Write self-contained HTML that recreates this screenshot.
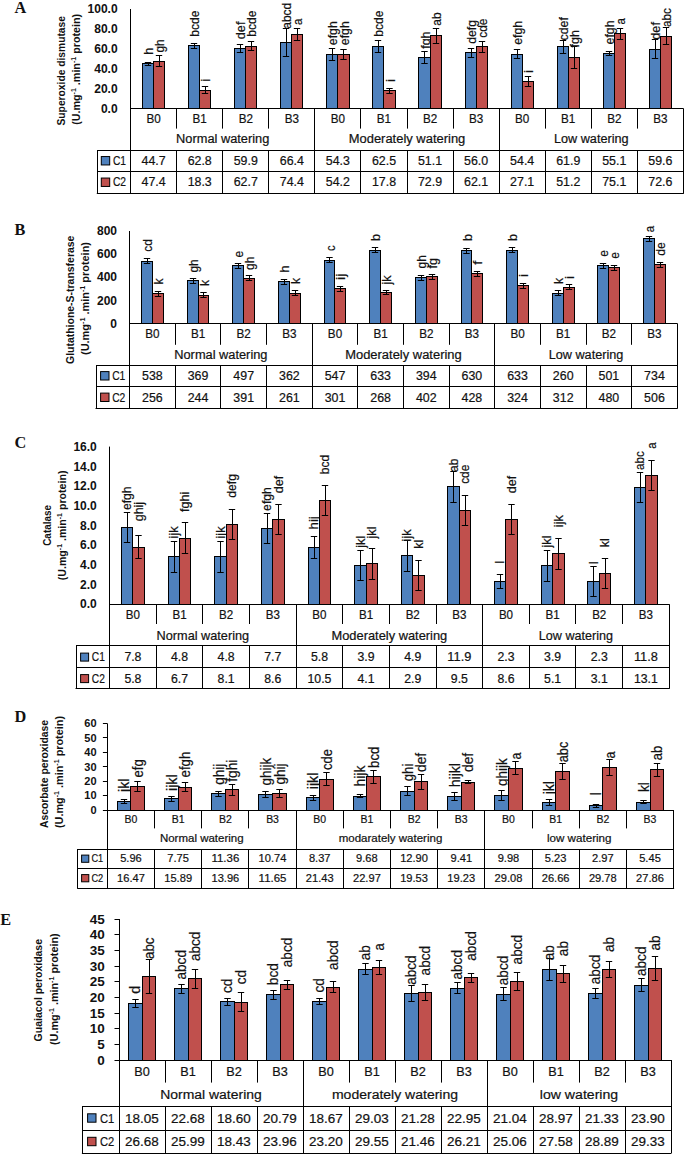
<!DOCTYPE html>
<html><head><meta charset="utf-8"><style>
html,body{margin:0;padding:0;background:#fff;}
body{width:685px;height:1154px;overflow:hidden;}
svg{display:block;}
text.r{stroke:#111;stroke-width:0.2px;}
</style></head><body>
<svg width="685" height="1154" viewBox="0 0 685 1154" font-family='"Liberation Sans", sans-serif' fill="#111">
<rect width="685" height="1154" fill="#fff"/>
<text x="14.60" y="12.90" font-size="16.30" text-anchor="start" font-weight="bold" font-family='"Liberation Serif", serif'>A</text>
<text transform="translate(65.00,70.75) rotate(-90)" x="0" y="0" font-size="11.5" font-weight="bold" text-anchor="middle" textLength="109.50" lengthAdjust="spacingAndGlyphs">Superoxide dismutase</text>
<text transform="translate(79.50,69.35) rotate(-90)" x="0" y="0" font-size="11.5" font-weight="bold" text-anchor="middle" textLength="111.00" lengthAdjust="spacingAndGlyphs">(U.mg<tspan font-size="7.5" dy="-4">-1</tspan><tspan dy="4"> .min</tspan><tspan font-size="7.5" dy="-4">-1</tspan><tspan dy="4"> protein)</tspan></text>
<text x="117.60" y="112.60" font-size="12.00" text-anchor="end" font-weight="bold">0.0</text>
<text x="117.60" y="92.72" font-size="12.00" text-anchor="end" font-weight="bold">20.0</text>
<text x="117.60" y="72.84" font-size="12.00" text-anchor="end" font-weight="bold">40.0</text>
<text x="117.60" y="52.96" font-size="12.00" text-anchor="end" font-weight="bold">60.0</text>
<text x="117.60" y="33.08" font-size="12.00" text-anchor="end" font-weight="bold">80.0</text>
<text x="117.60" y="13.20" font-size="12.00" text-anchor="end" font-weight="bold">100.0</text>
<rect x="142.50" y="63.50" width="11.00" height="45.00" fill="#4f81bd" stroke="#000" stroke-width="1"/>
<line x1="148.50" y1="62.67" x2="148.50" y2="65.27" stroke="#000" stroke-width="1.0"/>
<line x1="144.80" y1="62.50" x2="151.20" y2="62.50" stroke="#000" stroke-width="1.0"/>
<line x1="144.80" y1="65.50" x2="151.20" y2="65.50" stroke="#000" stroke-width="1.0"/>
<text class="r" transform="translate(153.30,54.80) rotate(-90)" x="0" y="0" font-size="11.97" text-anchor="start" textLength="6.99" lengthAdjust="spacingAndGlyphs">h</text>
<rect x="153.50" y="61.50" width="11.00" height="47.00" fill="#c0504d" stroke="#000" stroke-width="1"/>
<line x1="159.50" y1="55.68" x2="159.50" y2="66.88" stroke="#000" stroke-width="1.0"/>
<line x1="155.80" y1="55.50" x2="162.20" y2="55.50" stroke="#000" stroke-width="1.0"/>
<line x1="155.80" y1="66.50" x2="162.20" y2="66.50" stroke="#000" stroke-width="1.0"/>
<text class="r" transform="translate(164.30,52.60) rotate(-90)" x="0" y="0" font-size="11.97" text-anchor="start" textLength="13.25" lengthAdjust="spacingAndGlyphs">gh</text>
<rect x="188.50" y="45.50" width="11.00" height="63.00" fill="#4f81bd" stroke="#000" stroke-width="1"/>
<line x1="194.50" y1="43.18" x2="194.50" y2="48.78" stroke="#000" stroke-width="1.0"/>
<line x1="190.80" y1="43.50" x2="197.20" y2="43.50" stroke="#000" stroke-width="1.0"/>
<line x1="190.80" y1="48.50" x2="197.20" y2="48.50" stroke="#000" stroke-width="1.0"/>
<text class="r" transform="translate(199.30,36.80) rotate(-90)" x="0" y="0" font-size="11.97" text-anchor="start" textLength="26.22" lengthAdjust="spacingAndGlyphs">bcde</text>
<rect x="199.50" y="90.50" width="11.00" height="18.00" fill="#c0504d" stroke="#000" stroke-width="1"/>
<line x1="205.50" y1="86.51" x2="205.50" y2="93.91" stroke="#000" stroke-width="1.0"/>
<line x1="201.80" y1="86.50" x2="208.20" y2="86.50" stroke="#000" stroke-width="1.0"/>
<line x1="201.80" y1="93.50" x2="208.20" y2="93.50" stroke="#000" stroke-width="1.0"/>
<text class="r" transform="translate(210.30,81.70) rotate(-90)" x="0" y="0" font-size="11.97" text-anchor="start" textLength="3.05" lengthAdjust="spacingAndGlyphs">i</text>
<rect x="234.50" y="48.50" width="11.00" height="60.00" fill="#4f81bd" stroke="#000" stroke-width="1"/>
<line x1="240.50" y1="44.86" x2="240.50" y2="52.86" stroke="#000" stroke-width="1.0"/>
<line x1="236.80" y1="44.50" x2="243.20" y2="44.50" stroke="#000" stroke-width="1.0"/>
<line x1="236.80" y1="52.50" x2="243.20" y2="52.50" stroke="#000" stroke-width="1.0"/>
<text class="r" transform="translate(245.30,39.20) rotate(-90)" x="0" y="0" font-size="11.97" text-anchor="start" textLength="17.66" lengthAdjust="spacingAndGlyphs">def</text>
<rect x="245.50" y="46.50" width="11.00" height="62.00" fill="#c0504d" stroke="#000" stroke-width="1"/>
<line x1="251.50" y1="41.58" x2="251.50" y2="50.58" stroke="#000" stroke-width="1.0"/>
<line x1="247.80" y1="41.50" x2="254.20" y2="41.50" stroke="#000" stroke-width="1.0"/>
<line x1="247.80" y1="50.50" x2="254.20" y2="50.50" stroke="#000" stroke-width="1.0"/>
<text class="r" transform="translate(256.30,36.80) rotate(-90)" x="0" y="0" font-size="11.97" text-anchor="start" textLength="26.22" lengthAdjust="spacingAndGlyphs">bcde</text>
<rect x="280.50" y="42.50" width="11.00" height="66.00" fill="#4f81bd" stroke="#000" stroke-width="1"/>
<line x1="286.50" y1="28.10" x2="286.50" y2="56.70" stroke="#000" stroke-width="1.0"/>
<line x1="282.80" y1="28.50" x2="289.20" y2="28.50" stroke="#000" stroke-width="1.0"/>
<line x1="282.80" y1="56.50" x2="289.20" y2="56.50" stroke="#000" stroke-width="1.0"/>
<text class="r" transform="translate(291.30,28.70) rotate(-90)" x="0" y="0" font-size="11.97" text-anchor="start" textLength="25.97" lengthAdjust="spacingAndGlyphs">abcd</text>
<rect x="291.50" y="34.50" width="11.00" height="74.00" fill="#c0504d" stroke="#000" stroke-width="1"/>
<line x1="297.50" y1="28.60" x2="297.50" y2="40.30" stroke="#000" stroke-width="1.0"/>
<line x1="293.80" y1="28.50" x2="300.20" y2="28.50" stroke="#000" stroke-width="1.0"/>
<line x1="293.80" y1="40.50" x2="300.20" y2="40.50" stroke="#000" stroke-width="1.0"/>
<text class="r" transform="translate(302.30,25.10) rotate(-90)" x="0" y="0" font-size="11.97" text-anchor="start" textLength="6.37" lengthAdjust="spacingAndGlyphs">a</text>
<rect x="326.50" y="54.50" width="11.00" height="54.00" fill="#4f81bd" stroke="#000" stroke-width="1"/>
<line x1="332.50" y1="48.83" x2="332.50" y2="60.03" stroke="#000" stroke-width="1.0"/>
<line x1="328.80" y1="48.50" x2="335.20" y2="48.50" stroke="#000" stroke-width="1.0"/>
<line x1="328.80" y1="60.50" x2="335.20" y2="60.50" stroke="#000" stroke-width="1.0"/>
<text class="r" transform="translate(337.30,45.20) rotate(-90)" x="0" y="0" font-size="11.97" text-anchor="start" textLength="23.92" lengthAdjust="spacingAndGlyphs">efgh</text>
<rect x="337.50" y="54.50" width="12.00" height="54.00" fill="#c0504d" stroke="#000" stroke-width="1"/>
<line x1="343.50" y1="49.33" x2="343.50" y2="59.73" stroke="#000" stroke-width="1.0"/>
<line x1="340.30" y1="49.50" x2="346.70" y2="49.50" stroke="#000" stroke-width="1.0"/>
<line x1="340.30" y1="59.50" x2="346.70" y2="59.50" stroke="#000" stroke-width="1.0"/>
<text class="r" transform="translate(348.80,45.20) rotate(-90)" x="0" y="0" font-size="11.97" text-anchor="start" textLength="23.92" lengthAdjust="spacingAndGlyphs">efgh</text>
<rect x="372.50" y="46.50" width="11.00" height="62.00" fill="#4f81bd" stroke="#000" stroke-width="1"/>
<line x1="378.50" y1="40.27" x2="378.50" y2="52.27" stroke="#000" stroke-width="1.0"/>
<line x1="374.80" y1="40.50" x2="381.20" y2="40.50" stroke="#000" stroke-width="1.0"/>
<line x1="374.80" y1="52.50" x2="381.20" y2="52.50" stroke="#000" stroke-width="1.0"/>
<text class="r" transform="translate(383.30,36.80) rotate(-90)" x="0" y="0" font-size="11.97" text-anchor="start" textLength="26.22" lengthAdjust="spacingAndGlyphs">bcde</text>
<rect x="383.50" y="90.50" width="12.00" height="18.00" fill="#c0504d" stroke="#000" stroke-width="1"/>
<line x1="389.50" y1="88.01" x2="389.50" y2="93.41" stroke="#000" stroke-width="1.0"/>
<line x1="386.30" y1="88.50" x2="392.70" y2="88.50" stroke="#000" stroke-width="1.0"/>
<line x1="386.30" y1="93.50" x2="392.70" y2="93.50" stroke="#000" stroke-width="1.0"/>
<text class="r" transform="translate(394.80,82.10) rotate(-90)" x="0" y="0" font-size="11.97" text-anchor="start" textLength="3.05" lengthAdjust="spacingAndGlyphs">i</text>
<rect x="418.50" y="57.50" width="12.00" height="51.00" fill="#4f81bd" stroke="#000" stroke-width="1"/>
<line x1="424.50" y1="51.61" x2="424.50" y2="63.61" stroke="#000" stroke-width="1.0"/>
<line x1="421.30" y1="51.50" x2="427.70" y2="51.50" stroke="#000" stroke-width="1.0"/>
<line x1="421.30" y1="63.50" x2="427.70" y2="63.50" stroke="#000" stroke-width="1.0"/>
<text class="r" transform="translate(429.80,48.80) rotate(-90)" x="0" y="0" font-size="11.97" text-anchor="start" textLength="17.31" lengthAdjust="spacingAndGlyphs">fgh</text>
<rect x="430.50" y="35.50" width="11.00" height="73.00" fill="#c0504d" stroke="#000" stroke-width="1"/>
<line x1="436.50" y1="28.59" x2="436.50" y2="43.29" stroke="#000" stroke-width="1.0"/>
<line x1="432.80" y1="28.50" x2="439.20" y2="28.50" stroke="#000" stroke-width="1.0"/>
<line x1="432.80" y1="43.50" x2="439.20" y2="43.50" stroke="#000" stroke-width="1.0"/>
<text class="r" transform="translate(441.30,25.70) rotate(-90)" x="0" y="0" font-size="11.97" text-anchor="start" textLength="13.36" lengthAdjust="spacingAndGlyphs">ab</text>
<rect x="465.50" y="52.50" width="11.00" height="56.00" fill="#4f81bd" stroke="#000" stroke-width="1"/>
<line x1="471.50" y1="48.44" x2="471.50" y2="57.04" stroke="#000" stroke-width="1.0"/>
<line x1="467.80" y1="48.50" x2="474.20" y2="48.50" stroke="#000" stroke-width="1.0"/>
<line x1="467.80" y1="57.50" x2="474.20" y2="57.50" stroke="#000" stroke-width="1.0"/>
<text class="r" transform="translate(476.30,43.80) rotate(-90)" x="0" y="0" font-size="11.97" text-anchor="start" textLength="23.92" lengthAdjust="spacingAndGlyphs">defg</text>
<rect x="476.50" y="46.50" width="11.00" height="62.00" fill="#c0504d" stroke="#000" stroke-width="1"/>
<line x1="482.50" y1="41.17" x2="482.50" y2="52.17" stroke="#000" stroke-width="1.0"/>
<line x1="478.80" y1="41.50" x2="485.20" y2="41.50" stroke="#000" stroke-width="1.0"/>
<line x1="478.80" y1="52.50" x2="485.20" y2="52.50" stroke="#000" stroke-width="1.0"/>
<text class="r" transform="translate(487.30,37.80) rotate(-90)" x="0" y="0" font-size="11.97" text-anchor="start" textLength="19.23" lengthAdjust="spacingAndGlyphs">cde</text>
<rect x="511.50" y="54.50" width="11.00" height="54.00" fill="#4f81bd" stroke="#000" stroke-width="1"/>
<line x1="517.50" y1="49.83" x2="517.50" y2="58.83" stroke="#000" stroke-width="1.0"/>
<line x1="513.80" y1="49.50" x2="520.20" y2="49.50" stroke="#000" stroke-width="1.0"/>
<line x1="513.80" y1="58.50" x2="520.20" y2="58.50" stroke="#000" stroke-width="1.0"/>
<text class="r" transform="translate(522.30,44.80) rotate(-90)" x="0" y="0" font-size="11.97" text-anchor="start" textLength="23.92" lengthAdjust="spacingAndGlyphs">efgh</text>
<rect x="522.50" y="81.50" width="11.00" height="27.00" fill="#c0504d" stroke="#000" stroke-width="1"/>
<line x1="528.50" y1="76.06" x2="528.50" y2="86.86" stroke="#000" stroke-width="1.0"/>
<line x1="524.80" y1="76.50" x2="531.20" y2="76.50" stroke="#000" stroke-width="1.0"/>
<line x1="524.80" y1="86.50" x2="531.20" y2="86.50" stroke="#000" stroke-width="1.0"/>
<text class="r" transform="translate(533.30,73.00) rotate(-90)" x="0" y="0" font-size="11.97" text-anchor="start" textLength="3.05" lengthAdjust="spacingAndGlyphs">i</text>
<rect x="557.50" y="46.50" width="11.00" height="62.00" fill="#4f81bd" stroke="#000" stroke-width="1"/>
<line x1="563.50" y1="40.27" x2="563.50" y2="53.47" stroke="#000" stroke-width="1.0"/>
<line x1="559.80" y1="40.50" x2="566.20" y2="40.50" stroke="#000" stroke-width="1.0"/>
<line x1="559.80" y1="53.50" x2="566.20" y2="53.50" stroke="#000" stroke-width="1.0"/>
<text class="r" transform="translate(568.30,40.40) rotate(-90)" x="0" y="0" font-size="11.97" text-anchor="start" textLength="23.29" lengthAdjust="spacingAndGlyphs">cdef</text>
<rect x="568.50" y="57.50" width="11.00" height="51.00" fill="#c0504d" stroke="#000" stroke-width="1"/>
<line x1="574.50" y1="46.41" x2="574.50" y2="68.61" stroke="#000" stroke-width="1.0"/>
<line x1="570.80" y1="46.50" x2="577.20" y2="46.50" stroke="#000" stroke-width="1.0"/>
<line x1="570.80" y1="68.50" x2="577.20" y2="68.50" stroke="#000" stroke-width="1.0"/>
<text class="r" transform="translate(579.30,47.50) rotate(-90)" x="0" y="0" font-size="11.97" text-anchor="start" textLength="17.31" lengthAdjust="spacingAndGlyphs">fgh</text>
<rect x="603.50" y="53.50" width="11.00" height="55.00" fill="#4f81bd" stroke="#000" stroke-width="1"/>
<line x1="609.50" y1="51.63" x2="609.50" y2="55.63" stroke="#000" stroke-width="1.0"/>
<line x1="605.80" y1="51.50" x2="612.20" y2="51.50" stroke="#000" stroke-width="1.0"/>
<line x1="605.80" y1="55.50" x2="612.20" y2="55.50" stroke="#000" stroke-width="1.0"/>
<text class="r" transform="translate(614.30,44.40) rotate(-90)" x="0" y="0" font-size="11.97" text-anchor="start" textLength="23.92" lengthAdjust="spacingAndGlyphs">efgh</text>
<rect x="614.50" y="33.50" width="11.00" height="75.00" fill="#c0504d" stroke="#000" stroke-width="1"/>
<line x1="620.50" y1="28.25" x2="620.50" y2="39.25" stroke="#000" stroke-width="1.0"/>
<line x1="616.80" y1="28.50" x2="623.20" y2="28.50" stroke="#000" stroke-width="1.0"/>
<line x1="616.80" y1="39.50" x2="623.20" y2="39.50" stroke="#000" stroke-width="1.0"/>
<text class="r" transform="translate(625.30,24.60) rotate(-90)" x="0" y="0" font-size="11.97" text-anchor="start" textLength="6.37" lengthAdjust="spacingAndGlyphs">a</text>
<rect x="649.50" y="49.50" width="11.00" height="59.00" fill="#4f81bd" stroke="#000" stroke-width="1"/>
<line x1="655.50" y1="39.96" x2="655.50" y2="58.36" stroke="#000" stroke-width="1.0"/>
<line x1="651.80" y1="39.50" x2="658.20" y2="39.50" stroke="#000" stroke-width="1.0"/>
<line x1="651.80" y1="58.50" x2="658.20" y2="58.50" stroke="#000" stroke-width="1.0"/>
<text class="r" transform="translate(660.30,39.70) rotate(-90)" x="0" y="0" font-size="11.97" text-anchor="start" textLength="17.66" lengthAdjust="spacingAndGlyphs">def</text>
<rect x="660.50" y="36.50" width="11.00" height="72.00" fill="#c0504d" stroke="#000" stroke-width="1"/>
<line x1="666.50" y1="27.54" x2="666.50" y2="44.94" stroke="#000" stroke-width="1.0"/>
<line x1="662.80" y1="27.50" x2="669.20" y2="27.50" stroke="#000" stroke-width="1.0"/>
<line x1="662.80" y1="44.50" x2="669.20" y2="44.50" stroke="#000" stroke-width="1.0"/>
<text class="r" transform="translate(671.30,27.10) rotate(-90)" x="0" y="0" font-size="11.97" text-anchor="start" textLength="18.98" lengthAdjust="spacingAndGlyphs">abc</text>
<line x1="130.50" y1="9.00" x2="130.50" y2="193.00" stroke="#000" stroke-width="1.0"/>
<line x1="130.60" y1="108.50" x2="683.40" y2="108.50" stroke="#000" stroke-width="1.0"/>
<line x1="97.30" y1="150.50" x2="683.40" y2="150.50" stroke="#000" stroke-width="1.0"/>
<line x1="97.30" y1="171.50" x2="683.40" y2="171.50" stroke="#000" stroke-width="1.0"/>
<line x1="96.80" y1="193.50" x2="683.90" y2="193.50" stroke="#000" stroke-width="1.0"/>
<line x1="97.50" y1="150.00" x2="97.50" y2="193.00" stroke="#000" stroke-width="1.0"/>
<line x1="683.50" y1="108.40" x2="683.50" y2="193.00" stroke="#000" stroke-width="1.0"/>
<line x1="176.50" y1="108.40" x2="176.50" y2="128.60" stroke="#000" stroke-width="1.0"/>
<line x1="176.50" y1="150.00" x2="176.50" y2="193.00" stroke="#000" stroke-width="1.0"/>
<line x1="222.50" y1="108.40" x2="222.50" y2="128.60" stroke="#000" stroke-width="1.0"/>
<line x1="222.50" y1="150.00" x2="222.50" y2="193.00" stroke="#000" stroke-width="1.0"/>
<line x1="268.50" y1="108.40" x2="268.50" y2="128.60" stroke="#000" stroke-width="1.0"/>
<line x1="268.50" y1="150.00" x2="268.50" y2="193.00" stroke="#000" stroke-width="1.0"/>
<line x1="314.50" y1="108.40" x2="314.50" y2="193.00" stroke="#000" stroke-width="1.0"/>
<line x1="360.50" y1="108.40" x2="360.50" y2="128.60" stroke="#000" stroke-width="1.0"/>
<line x1="360.50" y1="150.00" x2="360.50" y2="193.00" stroke="#000" stroke-width="1.0"/>
<line x1="407.50" y1="108.40" x2="407.50" y2="128.60" stroke="#000" stroke-width="1.0"/>
<line x1="407.50" y1="150.00" x2="407.50" y2="193.00" stroke="#000" stroke-width="1.0"/>
<line x1="453.50" y1="108.40" x2="453.50" y2="128.60" stroke="#000" stroke-width="1.0"/>
<line x1="453.50" y1="150.00" x2="453.50" y2="193.00" stroke="#000" stroke-width="1.0"/>
<line x1="499.50" y1="108.40" x2="499.50" y2="193.00" stroke="#000" stroke-width="1.0"/>
<line x1="545.50" y1="108.40" x2="545.50" y2="128.60" stroke="#000" stroke-width="1.0"/>
<line x1="545.50" y1="150.00" x2="545.50" y2="193.00" stroke="#000" stroke-width="1.0"/>
<line x1="591.50" y1="108.40" x2="591.50" y2="128.60" stroke="#000" stroke-width="1.0"/>
<line x1="591.50" y1="150.00" x2="591.50" y2="193.00" stroke="#000" stroke-width="1.0"/>
<line x1="637.50" y1="108.40" x2="637.50" y2="128.60" stroke="#000" stroke-width="1.0"/>
<line x1="637.50" y1="150.00" x2="637.50" y2="193.00" stroke="#000" stroke-width="1.0"/>
<text class="r" x="153.63" y="122.72" font-size="12.24" text-anchor="middle" textLength="14.29" lengthAdjust="spacingAndGlyphs">B0</text>
<text class="r" x="153.63" y="164.97" font-size="12.24" text-anchor="middle" textLength="24.11" lengthAdjust="spacingAndGlyphs">44.7</text>
<text class="r" x="153.63" y="186.47" font-size="12.24" text-anchor="middle" textLength="24.11" lengthAdjust="spacingAndGlyphs">47.4</text>
<text class="r" x="199.70" y="122.72" font-size="12.24" text-anchor="middle" textLength="14.29" lengthAdjust="spacingAndGlyphs">B1</text>
<text class="r" x="199.70" y="164.97" font-size="12.24" text-anchor="middle" textLength="24.11" lengthAdjust="spacingAndGlyphs">62.8</text>
<text class="r" x="199.70" y="186.47" font-size="12.24" text-anchor="middle" textLength="24.11" lengthAdjust="spacingAndGlyphs">18.3</text>
<text class="r" x="245.77" y="122.72" font-size="12.24" text-anchor="middle" textLength="14.29" lengthAdjust="spacingAndGlyphs">B2</text>
<text class="r" x="245.77" y="164.97" font-size="12.24" text-anchor="middle" textLength="24.11" lengthAdjust="spacingAndGlyphs">59.9</text>
<text class="r" x="245.77" y="186.47" font-size="12.24" text-anchor="middle" textLength="24.11" lengthAdjust="spacingAndGlyphs">62.7</text>
<text class="r" x="291.83" y="122.72" font-size="12.24" text-anchor="middle" textLength="14.29" lengthAdjust="spacingAndGlyphs">B3</text>
<text class="r" x="291.83" y="164.97" font-size="12.24" text-anchor="middle" textLength="24.11" lengthAdjust="spacingAndGlyphs">66.4</text>
<text class="r" x="291.83" y="186.47" font-size="12.24" text-anchor="middle" textLength="24.11" lengthAdjust="spacingAndGlyphs">74.4</text>
<text class="r" x="337.90" y="122.72" font-size="12.24" text-anchor="middle" textLength="14.29" lengthAdjust="spacingAndGlyphs">B0</text>
<text class="r" x="337.90" y="164.97" font-size="12.24" text-anchor="middle" textLength="24.11" lengthAdjust="spacingAndGlyphs">54.3</text>
<text class="r" x="337.90" y="186.47" font-size="12.24" text-anchor="middle" textLength="24.11" lengthAdjust="spacingAndGlyphs">54.2</text>
<text class="r" x="383.97" y="122.72" font-size="12.24" text-anchor="middle" textLength="14.29" lengthAdjust="spacingAndGlyphs">B1</text>
<text class="r" x="383.97" y="164.97" font-size="12.24" text-anchor="middle" textLength="24.11" lengthAdjust="spacingAndGlyphs">62.5</text>
<text class="r" x="383.97" y="186.47" font-size="12.24" text-anchor="middle" textLength="24.11" lengthAdjust="spacingAndGlyphs">17.8</text>
<text class="r" x="430.03" y="122.72" font-size="12.24" text-anchor="middle" textLength="14.29" lengthAdjust="spacingAndGlyphs">B2</text>
<text class="r" x="430.03" y="164.97" font-size="12.24" text-anchor="middle" textLength="24.11" lengthAdjust="spacingAndGlyphs">51.1</text>
<text class="r" x="430.03" y="186.47" font-size="12.24" text-anchor="middle" textLength="24.11" lengthAdjust="spacingAndGlyphs">72.9</text>
<text class="r" x="476.10" y="122.72" font-size="12.24" text-anchor="middle" textLength="14.29" lengthAdjust="spacingAndGlyphs">B3</text>
<text class="r" x="476.10" y="164.97" font-size="12.24" text-anchor="middle" textLength="24.11" lengthAdjust="spacingAndGlyphs">56.0</text>
<text class="r" x="476.10" y="186.47" font-size="12.24" text-anchor="middle" textLength="24.11" lengthAdjust="spacingAndGlyphs">62.1</text>
<text class="r" x="522.17" y="122.72" font-size="12.24" text-anchor="middle" textLength="14.29" lengthAdjust="spacingAndGlyphs">B0</text>
<text class="r" x="522.17" y="164.97" font-size="12.24" text-anchor="middle" textLength="24.11" lengthAdjust="spacingAndGlyphs">54.4</text>
<text class="r" x="522.17" y="186.47" font-size="12.24" text-anchor="middle" textLength="24.11" lengthAdjust="spacingAndGlyphs">27.1</text>
<text class="r" x="568.23" y="122.72" font-size="12.24" text-anchor="middle" textLength="14.29" lengthAdjust="spacingAndGlyphs">B1</text>
<text class="r" x="568.23" y="164.97" font-size="12.24" text-anchor="middle" textLength="24.11" lengthAdjust="spacingAndGlyphs">61.9</text>
<text class="r" x="568.23" y="186.47" font-size="12.24" text-anchor="middle" textLength="24.11" lengthAdjust="spacingAndGlyphs">51.2</text>
<text class="r" x="614.30" y="122.72" font-size="12.24" text-anchor="middle" textLength="14.29" lengthAdjust="spacingAndGlyphs">B2</text>
<text class="r" x="614.30" y="164.97" font-size="12.24" text-anchor="middle" textLength="24.11" lengthAdjust="spacingAndGlyphs">55.1</text>
<text class="r" x="614.30" y="186.47" font-size="12.24" text-anchor="middle" textLength="24.11" lengthAdjust="spacingAndGlyphs">75.1</text>
<text class="r" x="660.37" y="122.72" font-size="12.24" text-anchor="middle" textLength="14.29" lengthAdjust="spacingAndGlyphs">B3</text>
<text class="r" x="660.37" y="164.97" font-size="12.24" text-anchor="middle" textLength="24.11" lengthAdjust="spacingAndGlyphs">59.6</text>
<text class="r" x="660.37" y="186.47" font-size="12.24" text-anchor="middle" textLength="24.11" lengthAdjust="spacingAndGlyphs">72.6</text>
<text class="r" x="222.73" y="142.72" font-size="12.24" text-anchor="middle" textLength="93.23" lengthAdjust="spacingAndGlyphs">Normal watering</text>
<text class="r" x="407.00" y="142.72" font-size="12.24" text-anchor="middle" textLength="116.61" lengthAdjust="spacingAndGlyphs">Moderately watering</text>
<text class="r" x="591.27" y="142.72" font-size="12.24" text-anchor="middle" textLength="74.65" lengthAdjust="spacingAndGlyphs">Low watering</text>
<rect x="101.30" y="156.55" width="8.40" height="8.40" fill="#4f81bd" stroke="#000" stroke-width="1"/>
<text class="r" x="112.90" y="164.97" font-size="12.24" text-anchor="start" textLength="13.15" lengthAdjust="spacingAndGlyphs">C1</text>
<rect x="101.30" y="178.05" width="8.40" height="8.40" fill="#c0504d" stroke="#000" stroke-width="1"/>
<text class="r" x="112.90" y="186.47" font-size="12.24" text-anchor="start" textLength="13.15" lengthAdjust="spacingAndGlyphs">C2</text>
<text x="14.60" y="235.00" font-size="16.30" text-anchor="start" font-weight="bold" font-family='"Liberation Serif", serif'>B</text>
<text transform="translate(74.00,299.80) rotate(-90)" x="0" y="0" font-size="11.5" font-weight="bold" text-anchor="middle" textLength="128.40" lengthAdjust="spacingAndGlyphs">Glutathione-S-transferase</text>
<text transform="translate(89.40,298.50) rotate(-90)" x="0" y="0" font-size="11.5" font-weight="bold" text-anchor="middle" textLength="113.00" lengthAdjust="spacingAndGlyphs">(U.mg<tspan font-size="7.5" dy="-4">-1</tspan><tspan dy="4"> .min</tspan><tspan font-size="7.5" dy="-4">-1</tspan><tspan dy="4"> protein)</tspan></text>
<text x="117.00" y="327.60" font-size="12.00" text-anchor="end" font-weight="bold">0</text>
<text x="117.00" y="304.50" font-size="12.00" text-anchor="end" font-weight="bold">200</text>
<text x="117.00" y="281.40" font-size="12.00" text-anchor="end" font-weight="bold">400</text>
<text x="117.00" y="258.30" font-size="12.00" text-anchor="end" font-weight="bold">600</text>
<text x="117.00" y="235.20" font-size="12.00" text-anchor="end" font-weight="bold">800</text>
<rect x="141.50" y="261.50" width="11.00" height="62.00" fill="#4f81bd" stroke="#000" stroke-width="1"/>
<line x1="147.50" y1="258.76" x2="147.50" y2="263.76" stroke="#000" stroke-width="1.0"/>
<line x1="143.80" y1="258.50" x2="150.20" y2="258.50" stroke="#000" stroke-width="1.0"/>
<line x1="143.80" y1="263.50" x2="150.20" y2="263.50" stroke="#000" stroke-width="1.0"/>
<text class="r" transform="translate(152.10,251.70) rotate(-90)" x="0" y="0" font-size="12.60" text-anchor="start" textLength="12.61" lengthAdjust="spacingAndGlyphs">cd</text>
<rect x="152.50" y="293.50" width="11.00" height="30.00" fill="#c0504d" stroke="#000" stroke-width="1"/>
<line x1="158.50" y1="291.33" x2="158.50" y2="296.33" stroke="#000" stroke-width="1.0"/>
<line x1="154.80" y1="291.50" x2="161.20" y2="291.50" stroke="#000" stroke-width="1.0"/>
<line x1="154.80" y1="296.50" x2="161.20" y2="296.50" stroke="#000" stroke-width="1.0"/>
<text class="r" transform="translate(163.10,284.60) rotate(-90)" x="0" y="0" font-size="12.60" text-anchor="start" textLength="6.05" lengthAdjust="spacingAndGlyphs">k</text>
<rect x="187.50" y="280.50" width="11.00" height="43.00" fill="#4f81bd" stroke="#000" stroke-width="1"/>
<line x1="193.50" y1="278.28" x2="193.50" y2="283.28" stroke="#000" stroke-width="1.0"/>
<line x1="189.80" y1="278.50" x2="196.20" y2="278.50" stroke="#000" stroke-width="1.0"/>
<line x1="189.80" y1="283.50" x2="196.20" y2="283.50" stroke="#000" stroke-width="1.0"/>
<text class="r" transform="translate(198.10,272.50) rotate(-90)" x="0" y="0" font-size="12.60" text-anchor="start" textLength="13.25" lengthAdjust="spacingAndGlyphs">gh</text>
<rect x="198.50" y="295.50" width="10.00" height="28.00" fill="#c0504d" stroke="#000" stroke-width="1"/>
<line x1="203.50" y1="292.72" x2="203.50" y2="297.72" stroke="#000" stroke-width="1.0"/>
<line x1="200.30" y1="292.50" x2="206.70" y2="292.50" stroke="#000" stroke-width="1.0"/>
<line x1="200.30" y1="297.50" x2="206.70" y2="297.50" stroke="#000" stroke-width="1.0"/>
<text class="r" transform="translate(208.60,286.00) rotate(-90)" x="0" y="0" font-size="12.60" text-anchor="start" textLength="6.05" lengthAdjust="spacingAndGlyphs">k</text>
<rect x="232.50" y="265.50" width="11.00" height="58.00" fill="#4f81bd" stroke="#000" stroke-width="1"/>
<line x1="238.50" y1="263.50" x2="238.50" y2="268.50" stroke="#000" stroke-width="1.0"/>
<line x1="234.80" y1="263.50" x2="241.20" y2="263.50" stroke="#000" stroke-width="1.0"/>
<line x1="234.80" y1="268.50" x2="241.20" y2="268.50" stroke="#000" stroke-width="1.0"/>
<text class="r" transform="translate(243.10,257.40) rotate(-90)" x="0" y="0" font-size="12.60" text-anchor="start" textLength="6.62" lengthAdjust="spacingAndGlyphs">e</text>
<rect x="243.50" y="278.50" width="11.00" height="45.00" fill="#c0504d" stroke="#000" stroke-width="1"/>
<line x1="249.50" y1="275.74" x2="249.50" y2="280.74" stroke="#000" stroke-width="1.0"/>
<line x1="245.80" y1="275.50" x2="252.20" y2="275.50" stroke="#000" stroke-width="1.0"/>
<line x1="245.80" y1="280.50" x2="252.20" y2="280.50" stroke="#000" stroke-width="1.0"/>
<text class="r" transform="translate(254.10,269.90) rotate(-90)" x="0" y="0" font-size="12.60" text-anchor="start" textLength="13.25" lengthAdjust="spacingAndGlyphs">gh</text>
<rect x="278.50" y="281.50" width="11.00" height="42.00" fill="#4f81bd" stroke="#000" stroke-width="1"/>
<line x1="284.50" y1="279.09" x2="284.50" y2="284.09" stroke="#000" stroke-width="1.0"/>
<line x1="280.80" y1="279.50" x2="287.20" y2="279.50" stroke="#000" stroke-width="1.0"/>
<line x1="280.80" y1="284.50" x2="287.20" y2="284.50" stroke="#000" stroke-width="1.0"/>
<text class="r" transform="translate(289.10,272.50) rotate(-90)" x="0" y="0" font-size="12.60" text-anchor="start" textLength="6.99" lengthAdjust="spacingAndGlyphs">h</text>
<rect x="289.50" y="293.50" width="11.00" height="30.00" fill="#c0504d" stroke="#000" stroke-width="1"/>
<line x1="295.50" y1="290.75" x2="295.50" y2="295.75" stroke="#000" stroke-width="1.0"/>
<line x1="291.80" y1="290.50" x2="298.20" y2="290.50" stroke="#000" stroke-width="1.0"/>
<line x1="291.80" y1="295.50" x2="298.20" y2="295.50" stroke="#000" stroke-width="1.0"/>
<text class="r" transform="translate(300.10,284.00) rotate(-90)" x="0" y="0" font-size="12.60" text-anchor="start" textLength="6.05" lengthAdjust="spacingAndGlyphs">k</text>
<rect x="324.50" y="260.50" width="10.00" height="63.00" fill="#4f81bd" stroke="#000" stroke-width="1"/>
<line x1="329.50" y1="257.72" x2="329.50" y2="262.72" stroke="#000" stroke-width="1.0"/>
<line x1="326.30" y1="257.50" x2="332.70" y2="257.50" stroke="#000" stroke-width="1.0"/>
<line x1="326.30" y1="262.50" x2="332.70" y2="262.50" stroke="#000" stroke-width="1.0"/>
<text class="r" transform="translate(334.60,251.10) rotate(-90)" x="0" y="0" font-size="12.60" text-anchor="start" textLength="5.62" lengthAdjust="spacingAndGlyphs">c</text>
<rect x="334.50" y="288.50" width="11.00" height="35.00" fill="#c0504d" stroke="#000" stroke-width="1"/>
<line x1="340.50" y1="286.13" x2="340.50" y2="291.13" stroke="#000" stroke-width="1.0"/>
<line x1="336.80" y1="286.50" x2="343.20" y2="286.50" stroke="#000" stroke-width="1.0"/>
<line x1="336.80" y1="291.50" x2="343.20" y2="291.50" stroke="#000" stroke-width="1.0"/>
<text class="r" transform="translate(345.10,279.90) rotate(-90)" x="0" y="0" font-size="12.60" text-anchor="start" textLength="6.23" lengthAdjust="spacingAndGlyphs">ij</text>
<rect x="369.50" y="250.50" width="11.00" height="73.00" fill="#4f81bd" stroke="#000" stroke-width="1"/>
<line x1="375.50" y1="247.59" x2="375.50" y2="252.99" stroke="#000" stroke-width="1.0"/>
<line x1="371.80" y1="247.50" x2="378.20" y2="247.50" stroke="#000" stroke-width="1.0"/>
<line x1="371.80" y1="252.50" x2="378.20" y2="252.50" stroke="#000" stroke-width="1.0"/>
<text class="r" transform="translate(380.10,241.00) rotate(-90)" x="0" y="0" font-size="12.60" text-anchor="start" textLength="6.99" lengthAdjust="spacingAndGlyphs">b</text>
<rect x="380.50" y="292.50" width="11.00" height="31.00" fill="#c0504d" stroke="#000" stroke-width="1"/>
<line x1="386.50" y1="290.15" x2="386.50" y2="294.75" stroke="#000" stroke-width="1.0"/>
<line x1="382.80" y1="290.50" x2="389.20" y2="290.50" stroke="#000" stroke-width="1.0"/>
<line x1="382.80" y1="294.50" x2="389.20" y2="294.50" stroke="#000" stroke-width="1.0"/>
<text class="r" transform="translate(391.10,284.50) rotate(-90)" x="0" y="0" font-size="12.60" text-anchor="start" textLength="9.23" lengthAdjust="spacingAndGlyphs">jk</text>
<rect x="415.50" y="277.50" width="11.00" height="46.00" fill="#4f81bd" stroke="#000" stroke-width="1"/>
<line x1="421.50" y1="275.39" x2="421.50" y2="280.39" stroke="#000" stroke-width="1.0"/>
<line x1="417.80" y1="275.50" x2="424.20" y2="275.50" stroke="#000" stroke-width="1.0"/>
<line x1="417.80" y1="280.50" x2="424.20" y2="280.50" stroke="#000" stroke-width="1.0"/>
<text class="r" transform="translate(426.10,268.40) rotate(-90)" x="0" y="0" font-size="12.60" text-anchor="start" textLength="13.25" lengthAdjust="spacingAndGlyphs">gh</text>
<rect x="426.50" y="276.50" width="11.00" height="47.00" fill="#c0504d" stroke="#000" stroke-width="1"/>
<line x1="432.50" y1="274.27" x2="432.50" y2="279.67" stroke="#000" stroke-width="1.0"/>
<line x1="428.80" y1="274.50" x2="435.20" y2="274.50" stroke="#000" stroke-width="1.0"/>
<line x1="428.80" y1="279.50" x2="435.20" y2="279.50" stroke="#000" stroke-width="1.0"/>
<text class="r" transform="translate(437.10,268.40) rotate(-90)" x="0" y="0" font-size="12.60" text-anchor="start" textLength="10.32" lengthAdjust="spacingAndGlyphs">fg</text>
<rect x="461.50" y="250.50" width="10.00" height="73.00" fill="#4f81bd" stroke="#000" stroke-width="1"/>
<line x1="466.50" y1="248.13" x2="466.50" y2="253.13" stroke="#000" stroke-width="1.0"/>
<line x1="463.30" y1="248.50" x2="469.70" y2="248.50" stroke="#000" stroke-width="1.0"/>
<line x1="463.30" y1="253.50" x2="469.70" y2="253.50" stroke="#000" stroke-width="1.0"/>
<text class="r" transform="translate(471.60,241.00) rotate(-90)" x="0" y="0" font-size="12.60" text-anchor="start" textLength="6.99" lengthAdjust="spacingAndGlyphs">b</text>
<rect x="471.50" y="273.50" width="11.00" height="50.00" fill="#c0504d" stroke="#000" stroke-width="1"/>
<line x1="477.50" y1="271.47" x2="477.50" y2="276.47" stroke="#000" stroke-width="1.0"/>
<line x1="473.80" y1="271.50" x2="480.20" y2="271.50" stroke="#000" stroke-width="1.0"/>
<line x1="473.80" y1="276.50" x2="480.20" y2="276.50" stroke="#000" stroke-width="1.0"/>
<text class="r" transform="translate(482.10,264.80) rotate(-90)" x="0" y="0" font-size="12.60" text-anchor="start" textLength="4.06" lengthAdjust="spacingAndGlyphs">f</text>
<rect x="506.50" y="250.50" width="11.00" height="73.00" fill="#4f81bd" stroke="#000" stroke-width="1"/>
<line x1="512.50" y1="247.79" x2="512.50" y2="252.79" stroke="#000" stroke-width="1.0"/>
<line x1="508.80" y1="247.50" x2="515.20" y2="247.50" stroke="#000" stroke-width="1.0"/>
<line x1="508.80" y1="252.50" x2="515.20" y2="252.50" stroke="#000" stroke-width="1.0"/>
<text class="r" transform="translate(517.10,241.00) rotate(-90)" x="0" y="0" font-size="12.60" text-anchor="start" textLength="6.99" lengthAdjust="spacingAndGlyphs">b</text>
<rect x="517.50" y="285.50" width="11.00" height="38.00" fill="#c0504d" stroke="#000" stroke-width="1"/>
<line x1="523.50" y1="283.48" x2="523.50" y2="288.48" stroke="#000" stroke-width="1.0"/>
<line x1="519.80" y1="283.50" x2="526.20" y2="283.50" stroke="#000" stroke-width="1.0"/>
<line x1="519.80" y1="288.50" x2="526.20" y2="288.50" stroke="#000" stroke-width="1.0"/>
<text class="r" transform="translate(528.10,276.90) rotate(-90)" x="0" y="0" font-size="12.60" text-anchor="start" textLength="3.05" lengthAdjust="spacingAndGlyphs">i</text>
<rect x="552.50" y="293.50" width="11.00" height="30.00" fill="#4f81bd" stroke="#000" stroke-width="1"/>
<line x1="558.50" y1="290.87" x2="558.50" y2="295.87" stroke="#000" stroke-width="1.0"/>
<line x1="554.80" y1="290.50" x2="561.20" y2="290.50" stroke="#000" stroke-width="1.0"/>
<line x1="554.80" y1="295.50" x2="561.20" y2="295.50" stroke="#000" stroke-width="1.0"/>
<text class="r" transform="translate(563.10,284.00) rotate(-90)" x="0" y="0" font-size="12.60" text-anchor="start" textLength="6.05" lengthAdjust="spacingAndGlyphs">k</text>
<rect x="563.50" y="287.50" width="11.00" height="36.00" fill="#c0504d" stroke="#000" stroke-width="1"/>
<line x1="569.50" y1="284.86" x2="569.50" y2="289.86" stroke="#000" stroke-width="1.0"/>
<line x1="565.80" y1="284.50" x2="572.20" y2="284.50" stroke="#000" stroke-width="1.0"/>
<line x1="565.80" y1="289.50" x2="572.20" y2="289.50" stroke="#000" stroke-width="1.0"/>
<text class="r" transform="translate(574.10,278.90) rotate(-90)" x="0" y="0" font-size="12.60" text-anchor="start" textLength="3.05" lengthAdjust="spacingAndGlyphs">i</text>
<rect x="597.50" y="265.50" width="11.00" height="58.00" fill="#4f81bd" stroke="#000" stroke-width="1"/>
<line x1="603.50" y1="263.03" x2="603.50" y2="268.03" stroke="#000" stroke-width="1.0"/>
<line x1="599.80" y1="263.50" x2="606.20" y2="263.50" stroke="#000" stroke-width="1.0"/>
<line x1="599.80" y1="268.50" x2="606.20" y2="268.50" stroke="#000" stroke-width="1.0"/>
<text class="r" transform="translate(608.10,256.80) rotate(-90)" x="0" y="0" font-size="12.60" text-anchor="start" textLength="6.62" lengthAdjust="spacingAndGlyphs">e</text>
<rect x="608.50" y="267.50" width="11.00" height="56.00" fill="#c0504d" stroke="#000" stroke-width="1"/>
<line x1="614.50" y1="265.46" x2="614.50" y2="270.46" stroke="#000" stroke-width="1.0"/>
<line x1="610.80" y1="265.50" x2="617.20" y2="265.50" stroke="#000" stroke-width="1.0"/>
<line x1="610.80" y1="270.50" x2="617.20" y2="270.50" stroke="#000" stroke-width="1.0"/>
<text class="r" transform="translate(619.10,258.80) rotate(-90)" x="0" y="0" font-size="12.60" text-anchor="start" textLength="6.62" lengthAdjust="spacingAndGlyphs">e</text>
<rect x="643.50" y="238.50" width="11.00" height="85.00" fill="#4f81bd" stroke="#000" stroke-width="1"/>
<line x1="649.50" y1="236.12" x2="649.50" y2="241.12" stroke="#000" stroke-width="1.0"/>
<line x1="645.80" y1="236.50" x2="652.20" y2="236.50" stroke="#000" stroke-width="1.0"/>
<line x1="645.80" y1="241.50" x2="652.20" y2="241.50" stroke="#000" stroke-width="1.0"/>
<text class="r" transform="translate(654.10,232.20) rotate(-90)" x="0" y="0" font-size="12.60" text-anchor="start" textLength="6.37" lengthAdjust="spacingAndGlyphs">a</text>
<rect x="654.50" y="264.50" width="11.00" height="59.00" fill="#c0504d" stroke="#000" stroke-width="1"/>
<line x1="660.50" y1="262.26" x2="660.50" y2="267.66" stroke="#000" stroke-width="1.0"/>
<line x1="656.80" y1="262.50" x2="663.20" y2="262.50" stroke="#000" stroke-width="1.0"/>
<line x1="656.80" y1="267.50" x2="663.20" y2="267.50" stroke="#000" stroke-width="1.0"/>
<text class="r" transform="translate(665.10,255.80) rotate(-90)" x="0" y="0" font-size="12.60" text-anchor="start" textLength="13.61" lengthAdjust="spacingAndGlyphs">de</text>
<line x1="129.50" y1="231.00" x2="129.50" y2="408.00" stroke="#000" stroke-width="1.0"/>
<line x1="129.60" y1="323.50" x2="677.30" y2="323.50" stroke="#000" stroke-width="1.0"/>
<line x1="96.00" y1="365.50" x2="677.30" y2="365.50" stroke="#000" stroke-width="1.0"/>
<line x1="96.00" y1="386.50" x2="677.30" y2="386.50" stroke="#000" stroke-width="1.0"/>
<line x1="95.50" y1="408.50" x2="677.80" y2="408.50" stroke="#000" stroke-width="1.0"/>
<line x1="96.50" y1="365.00" x2="96.50" y2="408.00" stroke="#000" stroke-width="1.0"/>
<line x1="677.50" y1="323.40" x2="677.50" y2="408.00" stroke="#000" stroke-width="1.0"/>
<line x1="175.50" y1="323.40" x2="175.50" y2="344.80" stroke="#000" stroke-width="1.0"/>
<line x1="175.50" y1="365.00" x2="175.50" y2="408.00" stroke="#000" stroke-width="1.0"/>
<line x1="220.50" y1="323.40" x2="220.50" y2="344.80" stroke="#000" stroke-width="1.0"/>
<line x1="220.50" y1="365.00" x2="220.50" y2="408.00" stroke="#000" stroke-width="1.0"/>
<line x1="266.50" y1="323.40" x2="266.50" y2="344.80" stroke="#000" stroke-width="1.0"/>
<line x1="266.50" y1="365.00" x2="266.50" y2="408.00" stroke="#000" stroke-width="1.0"/>
<line x1="312.50" y1="323.40" x2="312.50" y2="408.00" stroke="#000" stroke-width="1.0"/>
<line x1="357.50" y1="323.40" x2="357.50" y2="344.80" stroke="#000" stroke-width="1.0"/>
<line x1="357.50" y1="365.00" x2="357.50" y2="408.00" stroke="#000" stroke-width="1.0"/>
<line x1="403.50" y1="323.40" x2="403.50" y2="344.80" stroke="#000" stroke-width="1.0"/>
<line x1="403.50" y1="365.00" x2="403.50" y2="408.00" stroke="#000" stroke-width="1.0"/>
<line x1="449.50" y1="323.40" x2="449.50" y2="344.80" stroke="#000" stroke-width="1.0"/>
<line x1="449.50" y1="365.00" x2="449.50" y2="408.00" stroke="#000" stroke-width="1.0"/>
<line x1="494.50" y1="323.40" x2="494.50" y2="408.00" stroke="#000" stroke-width="1.0"/>
<line x1="540.50" y1="323.40" x2="540.50" y2="344.80" stroke="#000" stroke-width="1.0"/>
<line x1="540.50" y1="365.00" x2="540.50" y2="408.00" stroke="#000" stroke-width="1.0"/>
<line x1="586.50" y1="323.40" x2="586.50" y2="344.80" stroke="#000" stroke-width="1.0"/>
<line x1="586.50" y1="365.00" x2="586.50" y2="408.00" stroke="#000" stroke-width="1.0"/>
<line x1="631.50" y1="323.40" x2="631.50" y2="344.80" stroke="#000" stroke-width="1.0"/>
<line x1="631.50" y1="365.00" x2="631.50" y2="408.00" stroke="#000" stroke-width="1.0"/>
<text class="r" x="152.42" y="338.32" font-size="12.24" text-anchor="middle" textLength="14.29" lengthAdjust="spacingAndGlyphs">B0</text>
<text class="r" x="152.42" y="380.02" font-size="12.24" text-anchor="middle" textLength="20.68" lengthAdjust="spacingAndGlyphs">538</text>
<text class="r" x="152.42" y="401.52" font-size="12.24" text-anchor="middle" textLength="20.68" lengthAdjust="spacingAndGlyphs">256</text>
<text class="r" x="198.06" y="338.32" font-size="12.24" text-anchor="middle" textLength="14.29" lengthAdjust="spacingAndGlyphs">B1</text>
<text class="r" x="198.06" y="380.02" font-size="12.24" text-anchor="middle" textLength="20.68" lengthAdjust="spacingAndGlyphs">369</text>
<text class="r" x="198.06" y="401.52" font-size="12.24" text-anchor="middle" textLength="20.68" lengthAdjust="spacingAndGlyphs">244</text>
<text class="r" x="243.70" y="338.32" font-size="12.24" text-anchor="middle" textLength="14.29" lengthAdjust="spacingAndGlyphs">B2</text>
<text class="r" x="243.70" y="380.02" font-size="12.24" text-anchor="middle" textLength="20.68" lengthAdjust="spacingAndGlyphs">497</text>
<text class="r" x="243.70" y="401.52" font-size="12.24" text-anchor="middle" textLength="20.68" lengthAdjust="spacingAndGlyphs">391</text>
<text class="r" x="289.35" y="338.32" font-size="12.24" text-anchor="middle" textLength="14.29" lengthAdjust="spacingAndGlyphs">B3</text>
<text class="r" x="289.35" y="380.02" font-size="12.24" text-anchor="middle" textLength="20.68" lengthAdjust="spacingAndGlyphs">362</text>
<text class="r" x="289.35" y="401.52" font-size="12.24" text-anchor="middle" textLength="20.68" lengthAdjust="spacingAndGlyphs">261</text>
<text class="r" x="334.99" y="338.32" font-size="12.24" text-anchor="middle" textLength="14.29" lengthAdjust="spacingAndGlyphs">B0</text>
<text class="r" x="334.99" y="380.02" font-size="12.24" text-anchor="middle" textLength="20.68" lengthAdjust="spacingAndGlyphs">547</text>
<text class="r" x="334.99" y="401.52" font-size="12.24" text-anchor="middle" textLength="20.68" lengthAdjust="spacingAndGlyphs">301</text>
<text class="r" x="380.63" y="338.32" font-size="12.24" text-anchor="middle" textLength="14.29" lengthAdjust="spacingAndGlyphs">B1</text>
<text class="r" x="380.63" y="380.02" font-size="12.24" text-anchor="middle" textLength="20.68" lengthAdjust="spacingAndGlyphs">633</text>
<text class="r" x="380.63" y="401.52" font-size="12.24" text-anchor="middle" textLength="20.68" lengthAdjust="spacingAndGlyphs">268</text>
<text class="r" x="426.27" y="338.32" font-size="12.24" text-anchor="middle" textLength="14.29" lengthAdjust="spacingAndGlyphs">B2</text>
<text class="r" x="426.27" y="380.02" font-size="12.24" text-anchor="middle" textLength="20.68" lengthAdjust="spacingAndGlyphs">394</text>
<text class="r" x="426.27" y="401.52" font-size="12.24" text-anchor="middle" textLength="20.68" lengthAdjust="spacingAndGlyphs">402</text>
<text class="r" x="471.91" y="338.32" font-size="12.24" text-anchor="middle" textLength="14.29" lengthAdjust="spacingAndGlyphs">B3</text>
<text class="r" x="471.91" y="380.02" font-size="12.24" text-anchor="middle" textLength="20.68" lengthAdjust="spacingAndGlyphs">630</text>
<text class="r" x="471.91" y="401.52" font-size="12.24" text-anchor="middle" textLength="20.68" lengthAdjust="spacingAndGlyphs">428</text>
<text class="r" x="517.55" y="338.32" font-size="12.24" text-anchor="middle" textLength="14.29" lengthAdjust="spacingAndGlyphs">B0</text>
<text class="r" x="517.55" y="380.02" font-size="12.24" text-anchor="middle" textLength="20.68" lengthAdjust="spacingAndGlyphs">633</text>
<text class="r" x="517.55" y="401.52" font-size="12.24" text-anchor="middle" textLength="20.68" lengthAdjust="spacingAndGlyphs">324</text>
<text class="r" x="563.20" y="338.32" font-size="12.24" text-anchor="middle" textLength="14.29" lengthAdjust="spacingAndGlyphs">B1</text>
<text class="r" x="563.20" y="380.02" font-size="12.24" text-anchor="middle" textLength="20.68" lengthAdjust="spacingAndGlyphs">260</text>
<text class="r" x="563.20" y="401.52" font-size="12.24" text-anchor="middle" textLength="20.68" lengthAdjust="spacingAndGlyphs">312</text>
<text class="r" x="608.84" y="338.32" font-size="12.24" text-anchor="middle" textLength="14.29" lengthAdjust="spacingAndGlyphs">B2</text>
<text class="r" x="608.84" y="380.02" font-size="12.24" text-anchor="middle" textLength="20.68" lengthAdjust="spacingAndGlyphs">501</text>
<text class="r" x="608.84" y="401.52" font-size="12.24" text-anchor="middle" textLength="20.68" lengthAdjust="spacingAndGlyphs">480</text>
<text class="r" x="654.48" y="338.32" font-size="12.24" text-anchor="middle" textLength="14.29" lengthAdjust="spacingAndGlyphs">B3</text>
<text class="r" x="654.48" y="380.02" font-size="12.24" text-anchor="middle" textLength="20.68" lengthAdjust="spacingAndGlyphs">734</text>
<text class="r" x="654.48" y="401.52" font-size="12.24" text-anchor="middle" textLength="20.68" lengthAdjust="spacingAndGlyphs">506</text>
<text class="r" x="220.88" y="359.12" font-size="12.24" text-anchor="middle" textLength="93.23" lengthAdjust="spacingAndGlyphs">Normal watering</text>
<text class="r" x="403.45" y="359.12" font-size="12.24" text-anchor="middle" textLength="116.61" lengthAdjust="spacingAndGlyphs">Moderately watering</text>
<text class="r" x="586.02" y="359.12" font-size="12.24" text-anchor="middle" textLength="74.65" lengthAdjust="spacingAndGlyphs">Low watering</text>
<rect x="100.60" y="371.60" width="8.40" height="8.40" fill="#4f81bd" stroke="#000" stroke-width="1"/>
<text class="r" x="112.20" y="380.02" font-size="12.24" text-anchor="start" textLength="13.15" lengthAdjust="spacingAndGlyphs">C1</text>
<rect x="100.60" y="393.10" width="8.40" height="8.40" fill="#c0504d" stroke="#000" stroke-width="1"/>
<text class="r" x="112.20" y="401.52" font-size="12.24" text-anchor="start" textLength="13.15" lengthAdjust="spacingAndGlyphs">C2</text>
<text x="14.60" y="447.90" font-size="16.30" text-anchor="start" font-weight="bold" font-family='"Liberation Serif", serif'>C</text>
<text transform="translate(51.00,525.40) rotate(-90)" x="0" y="0" font-size="11.5" font-weight="bold" text-anchor="middle" textLength="40.80" lengthAdjust="spacingAndGlyphs">Catalase</text>
<text transform="translate(65.50,525.40) rotate(-90)" x="0" y="0" font-size="11.5" font-weight="bold" text-anchor="middle" textLength="109.80" lengthAdjust="spacingAndGlyphs">(U.mg<tspan font-size="7.5" dy="-4">-1</tspan><tspan dy="4"> .min</tspan><tspan font-size="7.5" dy="-4">-1</tspan><tspan dy="4"> protein)</tspan></text>
<text x="96.80" y="608.40" font-size="12.00" text-anchor="end" font-weight="bold">0.0</text>
<text x="96.80" y="588.70" font-size="12.00" text-anchor="end" font-weight="bold">2.0</text>
<text x="96.80" y="569.00" font-size="12.00" text-anchor="end" font-weight="bold">4.0</text>
<text x="96.80" y="549.30" font-size="12.00" text-anchor="end" font-weight="bold">6.0</text>
<text x="96.80" y="529.60" font-size="12.00" text-anchor="end" font-weight="bold">8.0</text>
<text x="96.80" y="509.90" font-size="12.00" text-anchor="end" font-weight="bold">10.0</text>
<text x="96.80" y="490.20" font-size="12.00" text-anchor="end" font-weight="bold">12.0</text>
<text x="96.80" y="470.50" font-size="12.00" text-anchor="end" font-weight="bold">14.0</text>
<text x="96.80" y="450.80" font-size="12.00" text-anchor="end" font-weight="bold">16.0</text>
<rect x="121.50" y="527.50" width="11.00" height="77.00" fill="#4f81bd" stroke="#000" stroke-width="1"/>
<line x1="127.50" y1="512.27" x2="127.50" y2="542.47" stroke="#000" stroke-width="1.0"/>
<line x1="123.80" y1="512.50" x2="130.20" y2="512.50" stroke="#000" stroke-width="1.0"/>
<line x1="123.80" y1="542.50" x2="130.20" y2="542.50" stroke="#000" stroke-width="1.0"/>
<text class="r" transform="translate(131.40,510.10) rotate(-90)" x="0" y="0" font-size="12.50" text-anchor="start" textLength="23.74" lengthAdjust="spacingAndGlyphs">efgh</text>
<rect x="132.50" y="547.50" width="12.00" height="57.00" fill="#c0504d" stroke="#000" stroke-width="1"/>
<line x1="138.50" y1="535.97" x2="138.50" y2="558.17" stroke="#000" stroke-width="1.0"/>
<line x1="135.30" y1="535.50" x2="141.70" y2="535.50" stroke="#000" stroke-width="1.0"/>
<line x1="135.30" y1="558.50" x2="141.70" y2="558.50" stroke="#000" stroke-width="1.0"/>
<text class="r" transform="translate(142.90,521.20) rotate(-90)" x="0" y="0" font-size="12.50" text-anchor="start" textLength="19.34" lengthAdjust="spacingAndGlyphs">ghij</text>
<rect x="168.50" y="556.50" width="11.00" height="48.00" fill="#4f81bd" stroke="#000" stroke-width="1"/>
<line x1="174.50" y1="541.82" x2="174.50" y2="572.02" stroke="#000" stroke-width="1.0"/>
<line x1="170.80" y1="541.50" x2="177.20" y2="541.50" stroke="#000" stroke-width="1.0"/>
<line x1="170.80" y1="572.50" x2="177.20" y2="572.50" stroke="#000" stroke-width="1.0"/>
<text class="r" transform="translate(178.40,538.40) rotate(-90)" x="0" y="0" font-size="12.50" text-anchor="start" textLength="12.19" lengthAdjust="spacingAndGlyphs">ijk</text>
<rect x="179.50" y="538.50" width="11.00" height="66.00" fill="#c0504d" stroke="#000" stroke-width="1"/>
<line x1="185.50" y1="522.91" x2="185.50" y2="553.50" stroke="#000" stroke-width="1.0"/>
<line x1="181.80" y1="522.50" x2="188.20" y2="522.50" stroke="#000" stroke-width="1.0"/>
<line x1="181.80" y1="553.50" x2="188.20" y2="553.50" stroke="#000" stroke-width="1.0"/>
<text class="r" transform="translate(189.40,512.00) rotate(-90)" x="0" y="0" font-size="12.50" text-anchor="start" textLength="20.21" lengthAdjust="spacingAndGlyphs">fghi</text>
<rect x="214.50" y="556.50" width="12.00" height="48.00" fill="#4f81bd" stroke="#000" stroke-width="1"/>
<line x1="220.50" y1="541.82" x2="220.50" y2="572.02" stroke="#000" stroke-width="1.0"/>
<line x1="217.30" y1="541.50" x2="223.70" y2="541.50" stroke="#000" stroke-width="1.0"/>
<line x1="217.30" y1="572.50" x2="223.70" y2="572.50" stroke="#000" stroke-width="1.0"/>
<text class="r" transform="translate(224.90,538.60) rotate(-90)" x="0" y="0" font-size="12.50" text-anchor="start" textLength="12.19" lengthAdjust="spacingAndGlyphs">ijk</text>
<rect x="226.50" y="524.50" width="11.00" height="80.00" fill="#c0504d" stroke="#000" stroke-width="1"/>
<line x1="232.50" y1="509.12" x2="232.50" y2="539.72" stroke="#000" stroke-width="1.0"/>
<line x1="228.80" y1="509.50" x2="235.20" y2="509.50" stroke="#000" stroke-width="1.0"/>
<line x1="228.80" y1="539.50" x2="235.20" y2="539.50" stroke="#000" stroke-width="1.0"/>
<text class="r" transform="translate(236.40,497.70) rotate(-90)" x="0" y="0" font-size="12.50" text-anchor="start" textLength="23.74" lengthAdjust="spacingAndGlyphs">defg</text>
<rect x="261.50" y="528.50" width="11.00" height="76.00" fill="#4f81bd" stroke="#000" stroke-width="1"/>
<line x1="267.50" y1="513.36" x2="267.50" y2="543.36" stroke="#000" stroke-width="1.0"/>
<line x1="263.80" y1="513.50" x2="270.20" y2="513.50" stroke="#000" stroke-width="1.0"/>
<line x1="263.80" y1="543.50" x2="270.20" y2="543.50" stroke="#000" stroke-width="1.0"/>
<text class="r" transform="translate(271.40,510.90) rotate(-90)" x="0" y="0" font-size="12.50" text-anchor="start" textLength="23.74" lengthAdjust="spacingAndGlyphs">efgh</text>
<rect x="272.50" y="519.50" width="12.00" height="85.00" fill="#c0504d" stroke="#000" stroke-width="1"/>
<line x1="278.50" y1="504.39" x2="278.50" y2="534.59" stroke="#000" stroke-width="1.0"/>
<line x1="275.30" y1="504.50" x2="281.70" y2="504.50" stroke="#000" stroke-width="1.0"/>
<line x1="275.30" y1="534.50" x2="281.70" y2="534.50" stroke="#000" stroke-width="1.0"/>
<text class="r" transform="translate(282.90,493.20) rotate(-90)" x="0" y="0" font-size="12.50" text-anchor="start" textLength="17.53" lengthAdjust="spacingAndGlyphs">def</text>
<rect x="308.50" y="547.50" width="11.00" height="57.00" fill="#4f81bd" stroke="#000" stroke-width="1"/>
<line x1="314.50" y1="536.07" x2="314.50" y2="558.07" stroke="#000" stroke-width="1.0"/>
<line x1="310.80" y1="536.50" x2="317.20" y2="536.50" stroke="#000" stroke-width="1.0"/>
<line x1="310.80" y1="558.50" x2="317.20" y2="558.50" stroke="#000" stroke-width="1.0"/>
<text class="r" transform="translate(318.40,529.40) rotate(-90)" x="0" y="0" font-size="12.50" text-anchor="start" textLength="13.12" lengthAdjust="spacingAndGlyphs">hij</text>
<rect x="319.50" y="500.50" width="11.00" height="104.00" fill="#c0504d" stroke="#000" stroke-width="1"/>
<line x1="325.50" y1="485.68" x2="325.50" y2="515.88" stroke="#000" stroke-width="1.0"/>
<line x1="321.80" y1="485.50" x2="328.20" y2="485.50" stroke="#000" stroke-width="1.0"/>
<line x1="321.80" y1="515.50" x2="328.20" y2="515.50" stroke="#000" stroke-width="1.0"/>
<text class="r" transform="translate(329.40,474.20) rotate(-90)" x="0" y="0" font-size="12.50" text-anchor="start" textLength="19.45" lengthAdjust="spacingAndGlyphs">bcd</text>
<rect x="354.50" y="565.50" width="12.00" height="39.00" fill="#4f81bd" stroke="#000" stroke-width="1"/>
<line x1="360.50" y1="550.69" x2="360.50" y2="580.89" stroke="#000" stroke-width="1.0"/>
<line x1="357.30" y1="550.50" x2="363.70" y2="550.50" stroke="#000" stroke-width="1.0"/>
<line x1="357.30" y1="580.50" x2="363.70" y2="580.50" stroke="#000" stroke-width="1.0"/>
<text class="r" transform="translate(364.90,547.80) rotate(-90)" x="0" y="0" font-size="12.50" text-anchor="start" textLength="12.19" lengthAdjust="spacingAndGlyphs">jkl</text>
<rect x="366.50" y="563.50" width="11.00" height="41.00" fill="#c0504d" stroke="#000" stroke-width="1"/>
<line x1="372.50" y1="548.52" x2="372.50" y2="579.12" stroke="#000" stroke-width="1.0"/>
<line x1="368.80" y1="548.50" x2="375.20" y2="548.50" stroke="#000" stroke-width="1.0"/>
<line x1="368.80" y1="579.50" x2="375.20" y2="579.50" stroke="#000" stroke-width="1.0"/>
<text class="r" transform="translate(376.40,538.60) rotate(-90)" x="0" y="0" font-size="12.50" text-anchor="start" textLength="12.19" lengthAdjust="spacingAndGlyphs">jkl</text>
<rect x="401.50" y="555.50" width="11.00" height="49.00" fill="#4f81bd" stroke="#000" stroke-width="1"/>
<line x1="407.50" y1="540.84" x2="407.50" y2="571.04" stroke="#000" stroke-width="1.0"/>
<line x1="403.80" y1="540.50" x2="410.20" y2="540.50" stroke="#000" stroke-width="1.0"/>
<line x1="403.80" y1="571.50" x2="410.20" y2="571.50" stroke="#000" stroke-width="1.0"/>
<text class="r" transform="translate(411.40,541.40) rotate(-90)" x="0" y="0" font-size="12.50" text-anchor="start" textLength="12.19" lengthAdjust="spacingAndGlyphs">ijk</text>
<rect x="412.50" y="575.50" width="12.00" height="29.00" fill="#c0504d" stroke="#000" stroke-width="1"/>
<line x1="418.50" y1="560.34" x2="418.50" y2="590.93" stroke="#000" stroke-width="1.0"/>
<line x1="415.30" y1="560.50" x2="421.70" y2="560.50" stroke="#000" stroke-width="1.0"/>
<line x1="415.30" y1="590.50" x2="421.70" y2="590.50" stroke="#000" stroke-width="1.0"/>
<text class="r" transform="translate(422.90,548.80) rotate(-90)" x="0" y="0" font-size="12.50" text-anchor="start" textLength="9.03" lengthAdjust="spacingAndGlyphs">kl</text>
<rect x="447.50" y="486.50" width="12.00" height="118.00" fill="#4f81bd" stroke="#000" stroke-width="1"/>
<line x1="453.50" y1="471.88" x2="453.50" y2="502.09" stroke="#000" stroke-width="1.0"/>
<line x1="450.30" y1="471.50" x2="456.70" y2="471.50" stroke="#000" stroke-width="1.0"/>
<line x1="450.30" y1="502.50" x2="456.70" y2="502.50" stroke="#000" stroke-width="1.0"/>
<text class="r" transform="translate(457.90,472.00) rotate(-90)" x="0" y="0" font-size="12.50" text-anchor="start" textLength="13.26" lengthAdjust="spacingAndGlyphs">ab</text>
<rect x="459.50" y="510.50" width="11.00" height="94.00" fill="#c0504d" stroke="#000" stroke-width="1"/>
<line x1="465.50" y1="495.32" x2="465.50" y2="525.92" stroke="#000" stroke-width="1.0"/>
<line x1="461.80" y1="495.50" x2="468.20" y2="495.50" stroke="#000" stroke-width="1.0"/>
<line x1="461.80" y1="525.50" x2="468.20" y2="525.50" stroke="#000" stroke-width="1.0"/>
<text class="r" transform="translate(469.40,483.80) rotate(-90)" x="0" y="0" font-size="12.50" text-anchor="start" textLength="19.08" lengthAdjust="spacingAndGlyphs">cde</text>
<rect x="494.50" y="581.50" width="11.00" height="23.00" fill="#4f81bd" stroke="#000" stroke-width="1"/>
<line x1="500.50" y1="574.35" x2="500.50" y2="588.75" stroke="#000" stroke-width="1.0"/>
<line x1="496.80" y1="574.50" x2="503.20" y2="574.50" stroke="#000" stroke-width="1.0"/>
<line x1="496.80" y1="588.50" x2="503.20" y2="588.50" stroke="#000" stroke-width="1.0"/>
<text class="r" transform="translate(504.40,563.70) rotate(-90)" x="0" y="0" font-size="12.50" text-anchor="start" textLength="3.03" lengthAdjust="spacingAndGlyphs">l</text>
<rect x="505.50" y="519.50" width="12.00" height="85.00" fill="#c0504d" stroke="#000" stroke-width="1"/>
<line x1="511.50" y1="504.29" x2="511.50" y2="534.69" stroke="#000" stroke-width="1.0"/>
<line x1="508.30" y1="504.50" x2="514.70" y2="504.50" stroke="#000" stroke-width="1.0"/>
<line x1="508.30" y1="534.50" x2="514.70" y2="534.50" stroke="#000" stroke-width="1.0"/>
<text class="r" transform="translate(515.90,493.20) rotate(-90)" x="0" y="0" font-size="12.50" text-anchor="start" textLength="17.53" lengthAdjust="spacingAndGlyphs">def</text>
<rect x="541.50" y="565.50" width="11.00" height="39.00" fill="#4f81bd" stroke="#000" stroke-width="1"/>
<line x1="547.50" y1="550.49" x2="547.50" y2="581.09" stroke="#000" stroke-width="1.0"/>
<line x1="543.80" y1="550.50" x2="550.20" y2="550.50" stroke="#000" stroke-width="1.0"/>
<line x1="543.80" y1="581.50" x2="550.20" y2="581.50" stroke="#000" stroke-width="1.0"/>
<text class="r" transform="translate(551.40,547.50) rotate(-90)" x="0" y="0" font-size="12.50" text-anchor="start" textLength="12.19" lengthAdjust="spacingAndGlyphs">jkl</text>
<rect x="552.50" y="553.50" width="12.00" height="51.00" fill="#c0504d" stroke="#000" stroke-width="1"/>
<line x1="558.50" y1="538.76" x2="558.50" y2="569.17" stroke="#000" stroke-width="1.0"/>
<line x1="555.30" y1="538.50" x2="561.70" y2="538.50" stroke="#000" stroke-width="1.0"/>
<line x1="555.30" y1="569.50" x2="561.70" y2="569.50" stroke="#000" stroke-width="1.0"/>
<text class="r" transform="translate(562.90,527.20) rotate(-90)" x="0" y="0" font-size="12.50" text-anchor="start" textLength="12.19" lengthAdjust="spacingAndGlyphs">ijk</text>
<rect x="587.50" y="581.50" width="12.00" height="23.00" fill="#4f81bd" stroke="#000" stroke-width="1"/>
<line x1="593.50" y1="566.35" x2="593.50" y2="596.75" stroke="#000" stroke-width="1.0"/>
<line x1="590.30" y1="566.50" x2="596.70" y2="566.50" stroke="#000" stroke-width="1.0"/>
<line x1="590.30" y1="596.50" x2="596.70" y2="596.50" stroke="#000" stroke-width="1.0"/>
<text class="r" transform="translate(597.90,564.30) rotate(-90)" x="0" y="0" font-size="12.50" text-anchor="start" textLength="3.03" lengthAdjust="spacingAndGlyphs">l</text>
<rect x="599.50" y="573.50" width="11.00" height="31.00" fill="#c0504d" stroke="#000" stroke-width="1"/>
<line x1="605.50" y1="558.37" x2="605.50" y2="588.97" stroke="#000" stroke-width="1.0"/>
<line x1="601.80" y1="558.50" x2="608.20" y2="558.50" stroke="#000" stroke-width="1.0"/>
<line x1="601.80" y1="588.50" x2="608.20" y2="588.50" stroke="#000" stroke-width="1.0"/>
<text class="r" transform="translate(609.40,547.30) rotate(-90)" x="0" y="0" font-size="12.50" text-anchor="start" textLength="9.03" lengthAdjust="spacingAndGlyphs">kl</text>
<rect x="634.50" y="487.50" width="11.00" height="117.00" fill="#4f81bd" stroke="#000" stroke-width="1"/>
<line x1="640.50" y1="472.97" x2="640.50" y2="502.97" stroke="#000" stroke-width="1.0"/>
<line x1="636.80" y1="472.50" x2="643.20" y2="472.50" stroke="#000" stroke-width="1.0"/>
<line x1="636.80" y1="502.50" x2="643.20" y2="502.50" stroke="#000" stroke-width="1.0"/>
<text class="r" transform="translate(644.40,470.00) rotate(-90)" x="0" y="0" font-size="12.50" text-anchor="start" textLength="18.84" lengthAdjust="spacingAndGlyphs">abc</text>
<rect x="645.50" y="475.50" width="12.00" height="129.00" fill="#c0504d" stroke="#000" stroke-width="1"/>
<line x1="651.50" y1="460.17" x2="651.50" y2="490.17" stroke="#000" stroke-width="1.0"/>
<line x1="648.30" y1="460.50" x2="654.70" y2="460.50" stroke="#000" stroke-width="1.0"/>
<line x1="648.30" y1="490.50" x2="654.70" y2="490.50" stroke="#000" stroke-width="1.0"/>
<text class="r" transform="translate(655.90,448.80) rotate(-90)" x="0" y="0" font-size="12.50" text-anchor="start" textLength="6.32" lengthAdjust="spacingAndGlyphs">a</text>
<line x1="109.50" y1="446.60" x2="109.50" y2="688.60" stroke="#000" stroke-width="1.0"/>
<line x1="109.60" y1="604.50" x2="669.20" y2="604.50" stroke="#000" stroke-width="1.0"/>
<line x1="76.00" y1="645.50" x2="669.20" y2="645.50" stroke="#000" stroke-width="1.0"/>
<line x1="76.00" y1="667.50" x2="669.20" y2="667.50" stroke="#000" stroke-width="1.0"/>
<line x1="75.50" y1="688.50" x2="669.70" y2="688.50" stroke="#000" stroke-width="1.0"/>
<line x1="76.50" y1="645.60" x2="76.50" y2="688.60" stroke="#000" stroke-width="1.0"/>
<line x1="669.50" y1="604.20" x2="669.50" y2="688.60" stroke="#000" stroke-width="1.0"/>
<line x1="156.50" y1="604.20" x2="156.50" y2="624.00" stroke="#000" stroke-width="1.0"/>
<line x1="156.50" y1="645.60" x2="156.50" y2="688.60" stroke="#000" stroke-width="1.0"/>
<line x1="202.50" y1="604.20" x2="202.50" y2="624.00" stroke="#000" stroke-width="1.0"/>
<line x1="202.50" y1="645.60" x2="202.50" y2="688.60" stroke="#000" stroke-width="1.0"/>
<line x1="249.50" y1="604.20" x2="249.50" y2="624.00" stroke="#000" stroke-width="1.0"/>
<line x1="249.50" y1="645.60" x2="249.50" y2="688.60" stroke="#000" stroke-width="1.0"/>
<line x1="296.50" y1="604.20" x2="296.50" y2="688.60" stroke="#000" stroke-width="1.0"/>
<line x1="342.50" y1="604.20" x2="342.50" y2="624.00" stroke="#000" stroke-width="1.0"/>
<line x1="342.50" y1="645.60" x2="342.50" y2="688.60" stroke="#000" stroke-width="1.0"/>
<line x1="389.50" y1="604.20" x2="389.50" y2="624.00" stroke="#000" stroke-width="1.0"/>
<line x1="389.50" y1="645.60" x2="389.50" y2="688.60" stroke="#000" stroke-width="1.0"/>
<line x1="436.50" y1="604.20" x2="436.50" y2="624.00" stroke="#000" stroke-width="1.0"/>
<line x1="436.50" y1="645.60" x2="436.50" y2="688.60" stroke="#000" stroke-width="1.0"/>
<line x1="482.50" y1="604.20" x2="482.50" y2="688.60" stroke="#000" stroke-width="1.0"/>
<line x1="529.50" y1="604.20" x2="529.50" y2="624.00" stroke="#000" stroke-width="1.0"/>
<line x1="529.50" y1="645.60" x2="529.50" y2="688.60" stroke="#000" stroke-width="1.0"/>
<line x1="575.50" y1="604.20" x2="575.50" y2="624.00" stroke="#000" stroke-width="1.0"/>
<line x1="575.50" y1="645.60" x2="575.50" y2="688.60" stroke="#000" stroke-width="1.0"/>
<line x1="622.50" y1="604.20" x2="622.50" y2="624.00" stroke="#000" stroke-width="1.0"/>
<line x1="622.50" y1="645.60" x2="622.50" y2="688.60" stroke="#000" stroke-width="1.0"/>
<text class="r" x="132.92" y="619.09" font-size="12.15" text-anchor="middle" textLength="14.19" lengthAdjust="spacingAndGlyphs">B0</text>
<text class="r" x="132.92" y="661.29" font-size="12.15" text-anchor="middle" textLength="17.09" lengthAdjust="spacingAndGlyphs">7.8</text>
<text class="r" x="132.92" y="682.79" font-size="12.15" text-anchor="middle" textLength="17.09" lengthAdjust="spacingAndGlyphs">5.8</text>
<text class="r" x="179.55" y="619.09" font-size="12.15" text-anchor="middle" textLength="14.19" lengthAdjust="spacingAndGlyphs">B1</text>
<text class="r" x="179.55" y="661.29" font-size="12.15" text-anchor="middle" textLength="17.09" lengthAdjust="spacingAndGlyphs">4.8</text>
<text class="r" x="179.55" y="682.79" font-size="12.15" text-anchor="middle" textLength="17.09" lengthAdjust="spacingAndGlyphs">6.7</text>
<text class="r" x="226.18" y="619.09" font-size="12.15" text-anchor="middle" textLength="14.19" lengthAdjust="spacingAndGlyphs">B2</text>
<text class="r" x="226.18" y="661.29" font-size="12.15" text-anchor="middle" textLength="17.09" lengthAdjust="spacingAndGlyphs">4.8</text>
<text class="r" x="226.18" y="682.79" font-size="12.15" text-anchor="middle" textLength="17.09" lengthAdjust="spacingAndGlyphs">8.1</text>
<text class="r" x="272.82" y="619.09" font-size="12.15" text-anchor="middle" textLength="14.19" lengthAdjust="spacingAndGlyphs">B3</text>
<text class="r" x="272.82" y="661.29" font-size="12.15" text-anchor="middle" textLength="17.09" lengthAdjust="spacingAndGlyphs">7.7</text>
<text class="r" x="272.82" y="682.79" font-size="12.15" text-anchor="middle" textLength="17.09" lengthAdjust="spacingAndGlyphs">8.6</text>
<text class="r" x="319.45" y="619.09" font-size="12.15" text-anchor="middle" textLength="14.19" lengthAdjust="spacingAndGlyphs">B0</text>
<text class="r" x="319.45" y="661.29" font-size="12.15" text-anchor="middle" textLength="17.09" lengthAdjust="spacingAndGlyphs">5.8</text>
<text class="r" x="319.45" y="682.79" font-size="12.15" text-anchor="middle" textLength="23.93" lengthAdjust="spacingAndGlyphs">10.5</text>
<text class="r" x="366.08" y="619.09" font-size="12.15" text-anchor="middle" textLength="14.19" lengthAdjust="spacingAndGlyphs">B1</text>
<text class="r" x="366.08" y="661.29" font-size="12.15" text-anchor="middle" textLength="17.09" lengthAdjust="spacingAndGlyphs">3.9</text>
<text class="r" x="366.08" y="682.79" font-size="12.15" text-anchor="middle" textLength="17.09" lengthAdjust="spacingAndGlyphs">4.1</text>
<text class="r" x="412.72" y="619.09" font-size="12.15" text-anchor="middle" textLength="14.19" lengthAdjust="spacingAndGlyphs">B2</text>
<text class="r" x="412.72" y="661.29" font-size="12.15" text-anchor="middle" textLength="17.09" lengthAdjust="spacingAndGlyphs">4.9</text>
<text class="r" x="412.72" y="682.79" font-size="12.15" text-anchor="middle" textLength="17.09" lengthAdjust="spacingAndGlyphs">2.9</text>
<text class="r" x="459.35" y="619.09" font-size="12.15" text-anchor="middle" textLength="14.19" lengthAdjust="spacingAndGlyphs">B3</text>
<text class="r" x="459.35" y="661.29" font-size="12.15" text-anchor="middle" textLength="23.93" lengthAdjust="spacingAndGlyphs">11.9</text>
<text class="r" x="459.35" y="682.79" font-size="12.15" text-anchor="middle" textLength="17.09" lengthAdjust="spacingAndGlyphs">9.5</text>
<text class="r" x="505.98" y="619.09" font-size="12.15" text-anchor="middle" textLength="14.19" lengthAdjust="spacingAndGlyphs">B0</text>
<text class="r" x="505.98" y="661.29" font-size="12.15" text-anchor="middle" textLength="17.09" lengthAdjust="spacingAndGlyphs">2.3</text>
<text class="r" x="505.98" y="682.79" font-size="12.15" text-anchor="middle" textLength="17.09" lengthAdjust="spacingAndGlyphs">8.6</text>
<text class="r" x="552.62" y="619.09" font-size="12.15" text-anchor="middle" textLength="14.19" lengthAdjust="spacingAndGlyphs">B1</text>
<text class="r" x="552.62" y="661.29" font-size="12.15" text-anchor="middle" textLength="17.09" lengthAdjust="spacingAndGlyphs">3.9</text>
<text class="r" x="552.62" y="682.79" font-size="12.15" text-anchor="middle" textLength="17.09" lengthAdjust="spacingAndGlyphs">5.1</text>
<text class="r" x="599.25" y="619.09" font-size="12.15" text-anchor="middle" textLength="14.19" lengthAdjust="spacingAndGlyphs">B2</text>
<text class="r" x="599.25" y="661.29" font-size="12.15" text-anchor="middle" textLength="17.09" lengthAdjust="spacingAndGlyphs">2.3</text>
<text class="r" x="599.25" y="682.79" font-size="12.15" text-anchor="middle" textLength="17.09" lengthAdjust="spacingAndGlyphs">3.1</text>
<text class="r" x="645.88" y="619.09" font-size="12.15" text-anchor="middle" textLength="14.19" lengthAdjust="spacingAndGlyphs">B3</text>
<text class="r" x="645.88" y="661.29" font-size="12.15" text-anchor="middle" textLength="23.93" lengthAdjust="spacingAndGlyphs">11.8</text>
<text class="r" x="645.88" y="682.79" font-size="12.15" text-anchor="middle" textLength="23.93" lengthAdjust="spacingAndGlyphs">13.1</text>
<text class="r" x="202.87" y="639.79" font-size="12.15" text-anchor="middle" textLength="92.55" lengthAdjust="spacingAndGlyphs">Normal watering</text>
<text class="r" x="389.40" y="639.79" font-size="12.15" text-anchor="middle" textLength="115.75" lengthAdjust="spacingAndGlyphs">Moderately watering</text>
<text class="r" x="575.93" y="639.79" font-size="12.15" text-anchor="middle" textLength="74.10" lengthAdjust="spacingAndGlyphs">Low watering</text>
<rect x="80.60" y="653.10" width="8.00" height="8.00" fill="#4f81bd" stroke="#000" stroke-width="1"/>
<text class="r" x="91.80" y="661.29" font-size="12.15" text-anchor="start" textLength="13.06" lengthAdjust="spacingAndGlyphs">C1</text>
<rect x="80.60" y="674.60" width="8.00" height="8.00" fill="#c0504d" stroke="#000" stroke-width="1"/>
<text class="r" x="91.80" y="682.79" font-size="12.15" text-anchor="start" textLength="13.06" lengthAdjust="spacingAndGlyphs">C2</text>
<text x="14.60" y="721.60" font-size="16.30" text-anchor="start" font-weight="bold" font-family='"Liberation Serif", serif'>D</text>
<text transform="translate(48.00,774.00) rotate(-90)" x="0" y="0" font-size="11.5" font-weight="bold" text-anchor="middle" textLength="108.00" lengthAdjust="spacingAndGlyphs">Ascorbate peroxidase</text>
<text transform="translate(63.00,772.00) rotate(-90)" x="0" y="0" font-size="11.5" font-weight="bold" text-anchor="middle" textLength="112.00" lengthAdjust="spacingAndGlyphs">(U.mg<tspan font-size="7.5" dy="-4">-1</tspan><tspan dy="4"> .min</tspan><tspan font-size="7.5" dy="-4">-1</tspan><tspan dy="4"> protein)</tspan></text>
<text x="96.60" y="813.85" font-size="11.00" text-anchor="end" font-weight="bold">0</text>
<line x1="102.90" y1="810.50" x2="107.40" y2="810.50" stroke="#000" stroke-width="1.0"/>
<text x="96.60" y="799.43" font-size="11.00" text-anchor="end" font-weight="bold">10</text>
<line x1="102.90" y1="795.50" x2="107.40" y2="795.50" stroke="#000" stroke-width="1.0"/>
<text x="96.60" y="785.02" font-size="11.00" text-anchor="end" font-weight="bold">20</text>
<line x1="102.90" y1="781.50" x2="107.40" y2="781.50" stroke="#000" stroke-width="1.0"/>
<text x="96.60" y="770.60" font-size="11.00" text-anchor="end" font-weight="bold">30</text>
<line x1="102.90" y1="766.50" x2="107.40" y2="766.50" stroke="#000" stroke-width="1.0"/>
<text x="96.60" y="756.18" font-size="11.00" text-anchor="end" font-weight="bold">40</text>
<line x1="102.90" y1="752.50" x2="107.40" y2="752.50" stroke="#000" stroke-width="1.0"/>
<text x="96.60" y="741.77" font-size="11.00" text-anchor="end" font-weight="bold">50</text>
<line x1="102.90" y1="737.50" x2="107.40" y2="737.50" stroke="#000" stroke-width="1.0"/>
<text x="96.60" y="727.35" font-size="11.00" text-anchor="end" font-weight="bold">60</text>
<line x1="102.90" y1="723.50" x2="107.40" y2="723.50" stroke="#000" stroke-width="1.0"/>
<rect x="117.50" y="801.50" width="13.00" height="9.00" fill="#4f81bd" stroke="#000" stroke-width="1"/>
<line x1="124.50" y1="799.41" x2="124.50" y2="803.41" stroke="#000" stroke-width="1.0"/>
<line x1="120.80" y1="799.50" x2="127.20" y2="799.50" stroke="#000" stroke-width="1.0"/>
<line x1="120.80" y1="803.50" x2="127.20" y2="803.50" stroke="#000" stroke-width="1.0"/>
<text class="r" transform="translate(129.00,792.00) rotate(-90)" x="0" y="0" font-size="14.60" text-anchor="start" textLength="13.30" lengthAdjust="spacingAndGlyphs">jkl</text>
<rect x="130.50" y="786.50" width="14.00" height="24.00" fill="#c0504d" stroke="#000" stroke-width="1"/>
<line x1="137.50" y1="781.06" x2="137.50" y2="791.46" stroke="#000" stroke-width="1.0"/>
<line x1="134.30" y1="781.50" x2="140.70" y2="781.50" stroke="#000" stroke-width="1.0"/>
<line x1="134.30" y1="791.50" x2="140.70" y2="791.50" stroke="#000" stroke-width="1.0"/>
<text class="r" transform="translate(142.50,777.50) rotate(-90)" x="0" y="0" font-size="14.60" text-anchor="start" textLength="18.34" lengthAdjust="spacingAndGlyphs">efg</text>
<rect x="164.50" y="798.50" width="14.00" height="12.00" fill="#4f81bd" stroke="#000" stroke-width="1"/>
<line x1="171.50" y1="796.53" x2="171.50" y2="801.13" stroke="#000" stroke-width="1.0"/>
<line x1="168.30" y1="796.50" x2="174.70" y2="796.50" stroke="#000" stroke-width="1.0"/>
<line x1="168.30" y1="801.50" x2="174.70" y2="801.50" stroke="#000" stroke-width="1.0"/>
<text class="r" transform="translate(176.50,791.00) rotate(-90)" x="0" y="0" font-size="14.60" text-anchor="start" textLength="16.60" lengthAdjust="spacingAndGlyphs">ijkl</text>
<rect x="178.50" y="787.50" width="13.00" height="23.00" fill="#c0504d" stroke="#000" stroke-width="1"/>
<line x1="185.50" y1="782.49" x2="185.50" y2="791.69" stroke="#000" stroke-width="1.0"/>
<line x1="181.80" y1="782.50" x2="188.20" y2="782.50" stroke="#000" stroke-width="1.0"/>
<line x1="181.80" y1="791.50" x2="188.20" y2="791.50" stroke="#000" stroke-width="1.0"/>
<text class="r" transform="translate(190.00,777.50) rotate(-90)" x="0" y="0" font-size="14.60" text-anchor="start" textLength="25.90" lengthAdjust="spacingAndGlyphs">efgh</text>
<rect x="211.50" y="793.50" width="14.00" height="17.00" fill="#4f81bd" stroke="#000" stroke-width="1"/>
<line x1="218.50" y1="791.22" x2="218.50" y2="796.02" stroke="#000" stroke-width="1.0"/>
<line x1="215.30" y1="791.50" x2="221.70" y2="791.50" stroke="#000" stroke-width="1.0"/>
<line x1="215.30" y1="796.50" x2="221.70" y2="796.50" stroke="#000" stroke-width="1.0"/>
<text class="r" transform="translate(223.50,784.80) rotate(-90)" x="0" y="0" font-size="14.60" text-anchor="start" textLength="21.09" lengthAdjust="spacingAndGlyphs">ghij</text>
<rect x="225.50" y="789.50" width="13.00" height="21.00" fill="#c0504d" stroke="#000" stroke-width="1"/>
<line x1="232.50" y1="784.37" x2="232.50" y2="795.37" stroke="#000" stroke-width="1.0"/>
<line x1="228.80" y1="784.50" x2="235.20" y2="784.50" stroke="#000" stroke-width="1.0"/>
<line x1="228.80" y1="795.50" x2="235.20" y2="795.50" stroke="#000" stroke-width="1.0"/>
<text class="r" transform="translate(237.00,781.70) rotate(-90)" x="0" y="0" font-size="14.60" text-anchor="start" textLength="22.04" lengthAdjust="spacingAndGlyphs">fghi</text>
<rect x="258.50" y="794.50" width="14.00" height="16.00" fill="#4f81bd" stroke="#000" stroke-width="1"/>
<line x1="265.50" y1="791.62" x2="265.50" y2="797.42" stroke="#000" stroke-width="1.0"/>
<line x1="262.30" y1="791.50" x2="268.70" y2="791.50" stroke="#000" stroke-width="1.0"/>
<line x1="262.30" y1="797.50" x2="268.70" y2="797.50" stroke="#000" stroke-width="1.0"/>
<text class="r" transform="translate(270.50,785.50) rotate(-90)" x="0" y="0" font-size="14.60" text-anchor="start" textLength="27.64" lengthAdjust="spacingAndGlyphs">ghijk</text>
<rect x="272.50" y="793.50" width="14.00" height="17.00" fill="#c0504d" stroke="#000" stroke-width="1"/>
<line x1="279.50" y1="789.00" x2="279.50" y2="797.40" stroke="#000" stroke-width="1.0"/>
<line x1="276.30" y1="789.50" x2="282.70" y2="789.50" stroke="#000" stroke-width="1.0"/>
<line x1="276.30" y1="797.50" x2="282.70" y2="797.50" stroke="#000" stroke-width="1.0"/>
<text class="r" transform="translate(284.50,784.50) rotate(-90)" x="0" y="0" font-size="14.60" text-anchor="start" textLength="21.09" lengthAdjust="spacingAndGlyphs">ghij</text>
<rect x="306.50" y="797.50" width="13.00" height="13.00" fill="#4f81bd" stroke="#000" stroke-width="1"/>
<line x1="313.50" y1="795.83" x2="313.50" y2="800.03" stroke="#000" stroke-width="1.0"/>
<line x1="309.80" y1="795.50" x2="316.20" y2="795.50" stroke="#000" stroke-width="1.0"/>
<line x1="309.80" y1="800.50" x2="316.20" y2="800.50" stroke="#000" stroke-width="1.0"/>
<text class="r" transform="translate(318.00,789.20) rotate(-90)" x="0" y="0" font-size="14.60" text-anchor="start" textLength="16.60" lengthAdjust="spacingAndGlyphs">ijkl</text>
<rect x="319.50" y="779.50" width="14.00" height="31.00" fill="#c0504d" stroke="#000" stroke-width="1"/>
<line x1="326.50" y1="772.91" x2="326.50" y2="785.31" stroke="#000" stroke-width="1.0"/>
<line x1="323.30" y1="772.50" x2="329.70" y2="772.50" stroke="#000" stroke-width="1.0"/>
<line x1="323.30" y1="785.50" x2="329.70" y2="785.50" stroke="#000" stroke-width="1.0"/>
<text class="r" transform="translate(331.50,769.90) rotate(-90)" x="0" y="0" font-size="14.60" text-anchor="start" textLength="20.82" lengthAdjust="spacingAndGlyphs">cde</text>
<rect x="353.50" y="796.50" width="13.00" height="14.00" fill="#4f81bd" stroke="#000" stroke-width="1"/>
<line x1="360.50" y1="794.94" x2="360.50" y2="797.14" stroke="#000" stroke-width="1.0"/>
<line x1="356.80" y1="794.50" x2="363.20" y2="794.50" stroke="#000" stroke-width="1.0"/>
<line x1="356.80" y1="797.50" x2="363.20" y2="797.50" stroke="#000" stroke-width="1.0"/>
<text class="r" transform="translate(365.00,786.50) rotate(-90)" x="0" y="0" font-size="14.60" text-anchor="start" textLength="20.86" lengthAdjust="spacingAndGlyphs">hijk</text>
<rect x="366.50" y="776.50" width="14.00" height="34.00" fill="#c0504d" stroke="#000" stroke-width="1"/>
<line x1="373.50" y1="770.68" x2="373.50" y2="783.08" stroke="#000" stroke-width="1.0"/>
<line x1="370.30" y1="770.50" x2="376.70" y2="770.50" stroke="#000" stroke-width="1.0"/>
<line x1="370.30" y1="783.50" x2="376.70" y2="783.50" stroke="#000" stroke-width="1.0"/>
<text class="r" transform="translate(378.50,767.90) rotate(-90)" x="0" y="0" font-size="14.60" text-anchor="start" textLength="21.22" lengthAdjust="spacingAndGlyphs">bcd</text>
<rect x="400.50" y="791.50" width="14.00" height="19.00" fill="#4f81bd" stroke="#000" stroke-width="1"/>
<line x1="407.50" y1="786.90" x2="407.50" y2="795.90" stroke="#000" stroke-width="1.0"/>
<line x1="404.30" y1="786.50" x2="410.70" y2="786.50" stroke="#000" stroke-width="1.0"/>
<line x1="404.30" y1="795.50" x2="410.70" y2="795.50" stroke="#000" stroke-width="1.0"/>
<text class="r" transform="translate(412.50,781.30) rotate(-90)" x="0" y="0" font-size="14.60" text-anchor="start" textLength="17.65" lengthAdjust="spacingAndGlyphs">ghi</text>
<rect x="414.50" y="781.50" width="13.00" height="29.00" fill="#c0504d" stroke="#000" stroke-width="1"/>
<line x1="421.50" y1="774.34" x2="421.50" y2="789.34" stroke="#000" stroke-width="1.0"/>
<line x1="417.80" y1="774.50" x2="424.20" y2="774.50" stroke="#000" stroke-width="1.0"/>
<line x1="417.80" y1="789.50" x2="424.20" y2="789.50" stroke="#000" stroke-width="1.0"/>
<text class="r" transform="translate(426.00,772.00) rotate(-90)" x="0" y="0" font-size="14.60" text-anchor="start" textLength="19.12" lengthAdjust="spacingAndGlyphs">def</text>
<rect x="447.50" y="796.50" width="14.00" height="14.00" fill="#4f81bd" stroke="#000" stroke-width="1"/>
<line x1="454.50" y1="792.23" x2="454.50" y2="800.63" stroke="#000" stroke-width="1.0"/>
<line x1="451.30" y1="792.50" x2="457.70" y2="792.50" stroke="#000" stroke-width="1.0"/>
<line x1="451.30" y1="800.50" x2="457.70" y2="800.50" stroke="#000" stroke-width="1.0"/>
<text class="r" transform="translate(459.50,787.20) rotate(-90)" x="0" y="0" font-size="14.60" text-anchor="start" textLength="24.17" lengthAdjust="spacingAndGlyphs">hijkl</text>
<rect x="461.50" y="782.50" width="13.00" height="28.00" fill="#c0504d" stroke="#000" stroke-width="1"/>
<line x1="468.50" y1="780.78" x2="468.50" y2="783.78" stroke="#000" stroke-width="1.0"/>
<line x1="464.80" y1="780.50" x2="471.20" y2="780.50" stroke="#000" stroke-width="1.0"/>
<line x1="464.80" y1="783.50" x2="471.20" y2="783.50" stroke="#000" stroke-width="1.0"/>
<text class="r" transform="translate(473.00,772.00) rotate(-90)" x="0" y="0" font-size="14.60" text-anchor="start" textLength="19.12" lengthAdjust="spacingAndGlyphs">def</text>
<rect x="494.50" y="795.50" width="14.00" height="15.00" fill="#4f81bd" stroke="#000" stroke-width="1"/>
<line x1="501.50" y1="790.41" x2="501.50" y2="800.81" stroke="#000" stroke-width="1.0"/>
<line x1="498.30" y1="790.50" x2="504.70" y2="790.50" stroke="#000" stroke-width="1.0"/>
<line x1="498.30" y1="800.50" x2="504.70" y2="800.50" stroke="#000" stroke-width="1.0"/>
<text class="r" transform="translate(506.50,785.90) rotate(-90)" x="0" y="0" font-size="14.60" text-anchor="start" textLength="27.64" lengthAdjust="spacingAndGlyphs">ghijk</text>
<rect x="508.50" y="768.50" width="14.00" height="42.00" fill="#c0504d" stroke="#000" stroke-width="1"/>
<line x1="515.50" y1="761.88" x2="515.50" y2="774.28" stroke="#000" stroke-width="1.0"/>
<line x1="512.30" y1="761.50" x2="518.70" y2="761.50" stroke="#000" stroke-width="1.0"/>
<line x1="512.30" y1="774.50" x2="518.70" y2="774.50" stroke="#000" stroke-width="1.0"/>
<text class="r" transform="translate(520.50,759.60) rotate(-90)" x="0" y="0" font-size="14.60" text-anchor="start" textLength="6.90" lengthAdjust="spacingAndGlyphs">a</text>
<rect x="542.50" y="802.50" width="13.00" height="8.00" fill="#4f81bd" stroke="#000" stroke-width="1"/>
<line x1="549.50" y1="799.56" x2="549.50" y2="805.36" stroke="#000" stroke-width="1.0"/>
<line x1="545.80" y1="799.50" x2="552.20" y2="799.50" stroke="#000" stroke-width="1.0"/>
<line x1="545.80" y1="805.50" x2="552.20" y2="805.50" stroke="#000" stroke-width="1.0"/>
<text class="r" transform="translate(554.00,794.30) rotate(-90)" x="0" y="0" font-size="14.60" text-anchor="start" textLength="13.30" lengthAdjust="spacingAndGlyphs">jkl</text>
<rect x="555.50" y="771.50" width="14.00" height="39.00" fill="#c0504d" stroke="#000" stroke-width="1"/>
<line x1="562.50" y1="763.47" x2="562.50" y2="779.67" stroke="#000" stroke-width="1.0"/>
<line x1="559.30" y1="763.50" x2="565.70" y2="763.50" stroke="#000" stroke-width="1.0"/>
<line x1="559.30" y1="779.50" x2="565.70" y2="779.50" stroke="#000" stroke-width="1.0"/>
<text class="r" transform="translate(567.50,762.30) rotate(-90)" x="0" y="0" font-size="14.60" text-anchor="start" textLength="20.55" lengthAdjust="spacingAndGlyphs">abc</text>
<rect x="589.50" y="805.50" width="13.00" height="5.00" fill="#4f81bd" stroke="#000" stroke-width="1"/>
<line x1="596.50" y1="804.12" x2="596.50" y2="807.32" stroke="#000" stroke-width="1.0"/>
<line x1="592.80" y1="804.50" x2="599.20" y2="804.50" stroke="#000" stroke-width="1.0"/>
<line x1="592.80" y1="807.50" x2="599.20" y2="807.50" stroke="#000" stroke-width="1.0"/>
<text class="r" transform="translate(601.00,795.40) rotate(-90)" x="0" y="0" font-size="14.60" text-anchor="start" textLength="3.30" lengthAdjust="spacingAndGlyphs">l</text>
<rect x="602.50" y="767.50" width="14.00" height="43.00" fill="#c0504d" stroke="#000" stroke-width="1"/>
<line x1="609.50" y1="759.07" x2="609.50" y2="775.07" stroke="#000" stroke-width="1.0"/>
<line x1="606.30" y1="759.50" x2="612.70" y2="759.50" stroke="#000" stroke-width="1.0"/>
<line x1="606.30" y1="775.50" x2="612.70" y2="775.50" stroke="#000" stroke-width="1.0"/>
<text class="r" transform="translate(614.50,758.50) rotate(-90)" x="0" y="0" font-size="14.60" text-anchor="start" textLength="6.90" lengthAdjust="spacingAndGlyphs">a</text>
<rect x="636.50" y="802.50" width="14.00" height="8.00" fill="#4f81bd" stroke="#000" stroke-width="1"/>
<line x1="643.50" y1="800.54" x2="643.50" y2="803.74" stroke="#000" stroke-width="1.0"/>
<line x1="640.30" y1="800.50" x2="646.70" y2="800.50" stroke="#000" stroke-width="1.0"/>
<line x1="640.30" y1="803.50" x2="646.70" y2="803.50" stroke="#000" stroke-width="1.0"/>
<text class="r" transform="translate(648.50,792.10) rotate(-90)" x="0" y="0" font-size="14.60" text-anchor="start" textLength="9.85" lengthAdjust="spacingAndGlyphs">kl</text>
<rect x="650.50" y="769.50" width="13.00" height="41.00" fill="#c0504d" stroke="#000" stroke-width="1"/>
<line x1="657.50" y1="763.44" x2="657.50" y2="776.24" stroke="#000" stroke-width="1.0"/>
<line x1="653.80" y1="763.50" x2="660.20" y2="763.50" stroke="#000" stroke-width="1.0"/>
<line x1="653.80" y1="776.50" x2="660.20" y2="776.50" stroke="#000" stroke-width="1.0"/>
<text class="r" transform="translate(662.00,760.20) rotate(-90)" x="0" y="0" font-size="14.60" text-anchor="start" textLength="14.46" lengthAdjust="spacingAndGlyphs">ab</text>
<line x1="107.50" y1="723.50" x2="107.50" y2="888.00" stroke="#000" stroke-width="1.0"/>
<line x1="107.40" y1="810.50" x2="673.60" y2="810.50" stroke="#000" stroke-width="1.0"/>
<line x1="77.60" y1="849.50" x2="673.60" y2="849.50" stroke="#000" stroke-width="1.0"/>
<line x1="77.60" y1="868.50" x2="673.60" y2="868.50" stroke="#000" stroke-width="1.0"/>
<line x1="77.10" y1="888.50" x2="674.10" y2="888.50" stroke="#000" stroke-width="1.0"/>
<line x1="77.50" y1="849.00" x2="77.50" y2="888.00" stroke="#000" stroke-width="1.0"/>
<line x1="673.50" y1="810.00" x2="673.50" y2="888.00" stroke="#000" stroke-width="1.0"/>
<line x1="154.50" y1="810.00" x2="154.50" y2="828.40" stroke="#000" stroke-width="1.0"/>
<line x1="154.50" y1="849.00" x2="154.50" y2="888.00" stroke="#000" stroke-width="1.0"/>
<line x1="201.50" y1="810.00" x2="201.50" y2="828.40" stroke="#000" stroke-width="1.0"/>
<line x1="201.50" y1="849.00" x2="201.50" y2="888.00" stroke="#000" stroke-width="1.0"/>
<line x1="248.50" y1="810.00" x2="248.50" y2="828.40" stroke="#000" stroke-width="1.0"/>
<line x1="248.50" y1="849.00" x2="248.50" y2="888.00" stroke="#000" stroke-width="1.0"/>
<line x1="296.50" y1="810.00" x2="296.50" y2="888.00" stroke="#000" stroke-width="1.0"/>
<line x1="343.50" y1="810.00" x2="343.50" y2="828.40" stroke="#000" stroke-width="1.0"/>
<line x1="343.50" y1="849.00" x2="343.50" y2="888.00" stroke="#000" stroke-width="1.0"/>
<line x1="390.50" y1="810.00" x2="390.50" y2="828.40" stroke="#000" stroke-width="1.0"/>
<line x1="390.50" y1="849.00" x2="390.50" y2="888.00" stroke="#000" stroke-width="1.0"/>
<line x1="437.50" y1="810.00" x2="437.50" y2="828.40" stroke="#000" stroke-width="1.0"/>
<line x1="437.50" y1="849.00" x2="437.50" y2="888.00" stroke="#000" stroke-width="1.0"/>
<line x1="484.50" y1="810.00" x2="484.50" y2="888.00" stroke="#000" stroke-width="1.0"/>
<line x1="532.50" y1="810.00" x2="532.50" y2="828.40" stroke="#000" stroke-width="1.0"/>
<line x1="532.50" y1="849.00" x2="532.50" y2="888.00" stroke="#000" stroke-width="1.0"/>
<line x1="579.50" y1="810.00" x2="579.50" y2="828.40" stroke="#000" stroke-width="1.0"/>
<line x1="579.50" y1="849.00" x2="579.50" y2="888.00" stroke="#000" stroke-width="1.0"/>
<line x1="626.50" y1="810.00" x2="626.50" y2="828.40" stroke="#000" stroke-width="1.0"/>
<line x1="626.50" y1="849.00" x2="626.50" y2="888.00" stroke="#000" stroke-width="1.0"/>
<text class="r" x="130.99" y="822.99" font-size="10.98" text-anchor="middle" textLength="12.82" lengthAdjust="spacingAndGlyphs">B0</text>
<text class="r" x="130.99" y="862.49" font-size="10.98" text-anchor="middle" textLength="21.63" lengthAdjust="spacingAndGlyphs">5.96</text>
<text class="r" x="130.99" y="881.99" font-size="10.98" text-anchor="middle" textLength="27.81" lengthAdjust="spacingAndGlyphs">16.47</text>
<text class="r" x="178.18" y="822.99" font-size="10.98" text-anchor="middle" textLength="12.82" lengthAdjust="spacingAndGlyphs">B1</text>
<text class="r" x="178.18" y="862.49" font-size="10.98" text-anchor="middle" textLength="21.63" lengthAdjust="spacingAndGlyphs">7.75</text>
<text class="r" x="178.18" y="881.99" font-size="10.98" text-anchor="middle" textLength="27.81" lengthAdjust="spacingAndGlyphs">15.89</text>
<text class="r" x="225.36" y="822.99" font-size="10.98" text-anchor="middle" textLength="12.82" lengthAdjust="spacingAndGlyphs">B2</text>
<text class="r" x="225.36" y="862.49" font-size="10.98" text-anchor="middle" textLength="27.81" lengthAdjust="spacingAndGlyphs">11.36</text>
<text class="r" x="225.36" y="881.99" font-size="10.98" text-anchor="middle" textLength="27.81" lengthAdjust="spacingAndGlyphs">13.96</text>
<text class="r" x="272.54" y="822.99" font-size="10.98" text-anchor="middle" textLength="12.82" lengthAdjust="spacingAndGlyphs">B3</text>
<text class="r" x="272.54" y="862.49" font-size="10.98" text-anchor="middle" textLength="27.81" lengthAdjust="spacingAndGlyphs">10.74</text>
<text class="r" x="272.54" y="881.99" font-size="10.98" text-anchor="middle" textLength="27.81" lengthAdjust="spacingAndGlyphs">11.65</text>
<text class="r" x="319.73" y="822.99" font-size="10.98" text-anchor="middle" textLength="12.82" lengthAdjust="spacingAndGlyphs">B0</text>
<text class="r" x="319.73" y="862.49" font-size="10.98" text-anchor="middle" textLength="21.63" lengthAdjust="spacingAndGlyphs">8.37</text>
<text class="r" x="319.73" y="881.99" font-size="10.98" text-anchor="middle" textLength="27.81" lengthAdjust="spacingAndGlyphs">21.43</text>
<text class="r" x="366.91" y="822.99" font-size="10.98" text-anchor="middle" textLength="12.82" lengthAdjust="spacingAndGlyphs">B1</text>
<text class="r" x="366.91" y="862.49" font-size="10.98" text-anchor="middle" textLength="21.63" lengthAdjust="spacingAndGlyphs">9.68</text>
<text class="r" x="366.91" y="881.99" font-size="10.98" text-anchor="middle" textLength="27.81" lengthAdjust="spacingAndGlyphs">22.97</text>
<text class="r" x="414.09" y="822.99" font-size="10.98" text-anchor="middle" textLength="12.82" lengthAdjust="spacingAndGlyphs">B2</text>
<text class="r" x="414.09" y="862.49" font-size="10.98" text-anchor="middle" textLength="27.81" lengthAdjust="spacingAndGlyphs">12.90</text>
<text class="r" x="414.09" y="881.99" font-size="10.98" text-anchor="middle" textLength="27.81" lengthAdjust="spacingAndGlyphs">19.53</text>
<text class="r" x="461.27" y="822.99" font-size="10.98" text-anchor="middle" textLength="12.82" lengthAdjust="spacingAndGlyphs">B3</text>
<text class="r" x="461.27" y="862.49" font-size="10.98" text-anchor="middle" textLength="21.63" lengthAdjust="spacingAndGlyphs">9.41</text>
<text class="r" x="461.27" y="881.99" font-size="10.98" text-anchor="middle" textLength="27.81" lengthAdjust="spacingAndGlyphs">19.23</text>
<text class="r" x="508.46" y="822.99" font-size="10.98" text-anchor="middle" textLength="12.82" lengthAdjust="spacingAndGlyphs">B0</text>
<text class="r" x="508.46" y="862.49" font-size="10.98" text-anchor="middle" textLength="21.63" lengthAdjust="spacingAndGlyphs">9.98</text>
<text class="r" x="508.46" y="881.99" font-size="10.98" text-anchor="middle" textLength="27.81" lengthAdjust="spacingAndGlyphs">29.08</text>
<text class="r" x="555.64" y="822.99" font-size="10.98" text-anchor="middle" textLength="12.82" lengthAdjust="spacingAndGlyphs">B1</text>
<text class="r" x="555.64" y="862.49" font-size="10.98" text-anchor="middle" textLength="21.63" lengthAdjust="spacingAndGlyphs">5.23</text>
<text class="r" x="555.64" y="881.99" font-size="10.98" text-anchor="middle" textLength="27.81" lengthAdjust="spacingAndGlyphs">26.66</text>
<text class="r" x="602.83" y="822.99" font-size="10.98" text-anchor="middle" textLength="12.82" lengthAdjust="spacingAndGlyphs">B2</text>
<text class="r" x="602.83" y="862.49" font-size="10.98" text-anchor="middle" textLength="21.63" lengthAdjust="spacingAndGlyphs">2.97</text>
<text class="r" x="602.83" y="881.99" font-size="10.98" text-anchor="middle" textLength="27.81" lengthAdjust="spacingAndGlyphs">29.78</text>
<text class="r" x="650.01" y="822.99" font-size="10.98" text-anchor="middle" textLength="12.82" lengthAdjust="spacingAndGlyphs">B3</text>
<text class="r" x="650.01" y="862.49" font-size="10.98" text-anchor="middle" textLength="21.63" lengthAdjust="spacingAndGlyphs">5.45</text>
<text class="r" x="650.01" y="881.99" font-size="10.98" text-anchor="middle" textLength="27.81" lengthAdjust="spacingAndGlyphs">27.86</text>
<text class="r" x="201.77" y="842.49" font-size="10.98" text-anchor="middle" textLength="83.64" lengthAdjust="spacingAndGlyphs">Normal watering</text>
<text class="r" x="390.50" y="842.49" font-size="10.98" text-anchor="middle" textLength="103.69" lengthAdjust="spacingAndGlyphs">modarately watering</text>
<text class="r" x="579.23" y="842.49" font-size="10.98" text-anchor="middle" textLength="64.64" lengthAdjust="spacingAndGlyphs">low watering</text>
<rect x="81.60" y="855.10" width="7.20" height="7.20" fill="#4f81bd" stroke="#000" stroke-width="1"/>
<text class="r" x="91.40" y="862.49" font-size="10.98" text-anchor="start" textLength="11.80" lengthAdjust="spacingAndGlyphs">C1</text>
<rect x="81.60" y="874.60" width="7.20" height="7.20" fill="#c0504d" stroke="#000" stroke-width="1"/>
<text class="r" x="91.40" y="881.99" font-size="10.98" text-anchor="start" textLength="11.80" lengthAdjust="spacingAndGlyphs">C2</text>
<text x="0.30" y="925.00" font-size="16.30" text-anchor="start" font-weight="bold" font-family='"Liberation Serif", serif'>E</text>
<text transform="translate(42.00,990.20) rotate(-90)" x="0" y="0" font-size="11.5" font-weight="bold" text-anchor="middle" textLength="102.40" lengthAdjust="spacingAndGlyphs">Guaiacol peroxidase</text>
<text transform="translate(58.00,989.20) rotate(-90)" x="0" y="0" font-size="11.5" font-weight="bold" text-anchor="middle" textLength="111.60" lengthAdjust="spacingAndGlyphs">(U.mg<tspan font-size="7.5" dy="-4">-1</tspan><tspan dy="4"> .min</tspan><tspan font-size="7.5" dy="-4">-1</tspan><tspan dy="4"> protein)</tspan></text>
<text x="104.80" y="1064.72" font-size="13.50" text-anchor="end" font-weight="bold">0</text>
<line x1="114.50" y1="1060.50" x2="119.00" y2="1060.50" stroke="#000" stroke-width="1.0"/>
<text x="104.80" y="1049.06" font-size="13.50" text-anchor="end" font-weight="bold">5</text>
<line x1="114.50" y1="1044.50" x2="119.00" y2="1044.50" stroke="#000" stroke-width="1.0"/>
<text x="104.80" y="1033.39" font-size="13.50" text-anchor="end" font-weight="bold">10</text>
<line x1="114.50" y1="1028.50" x2="119.00" y2="1028.50" stroke="#000" stroke-width="1.0"/>
<text x="104.80" y="1017.73" font-size="13.50" text-anchor="end" font-weight="bold">15</text>
<line x1="114.50" y1="1013.50" x2="119.00" y2="1013.50" stroke="#000" stroke-width="1.0"/>
<text x="104.80" y="1002.06" font-size="13.50" text-anchor="end" font-weight="bold">20</text>
<line x1="114.50" y1="997.50" x2="119.00" y2="997.50" stroke="#000" stroke-width="1.0"/>
<text x="104.80" y="986.39" font-size="13.50" text-anchor="end" font-weight="bold">25</text>
<line x1="114.50" y1="981.50" x2="119.00" y2="981.50" stroke="#000" stroke-width="1.0"/>
<text x="104.80" y="970.73" font-size="13.50" text-anchor="end" font-weight="bold">30</text>
<line x1="114.50" y1="966.50" x2="119.00" y2="966.50" stroke="#000" stroke-width="1.0"/>
<text x="104.80" y="955.06" font-size="13.50" text-anchor="end" font-weight="bold">35</text>
<line x1="114.50" y1="950.50" x2="119.00" y2="950.50" stroke="#000" stroke-width="1.0"/>
<text x="104.80" y="939.39" font-size="13.50" text-anchor="end" font-weight="bold">40</text>
<line x1="114.50" y1="934.50" x2="119.00" y2="934.50" stroke="#000" stroke-width="1.0"/>
<text x="104.80" y="923.73" font-size="13.50" text-anchor="end" font-weight="bold">45</text>
<line x1="114.50" y1="919.50" x2="119.00" y2="919.50" stroke="#000" stroke-width="1.0"/>
<rect x="128.50" y="1003.50" width="14.00" height="57.00" fill="#4f81bd" stroke="#000" stroke-width="1"/>
<line x1="135.50" y1="999.54" x2="135.50" y2="1007.34" stroke="#000" stroke-width="1.0"/>
<line x1="132.30" y1="999.50" x2="138.70" y2="999.50" stroke="#000" stroke-width="1.0"/>
<line x1="132.30" y1="1007.50" x2="138.70" y2="1007.50" stroke="#000" stroke-width="1.0"/>
<text class="r" transform="translate(140.00,993.80) rotate(-90)" x="0" y="0" font-size="14.30" text-anchor="start" textLength="7.93" lengthAdjust="spacingAndGlyphs">d</text>
<rect x="142.50" y="976.50" width="13.00" height="84.00" fill="#c0504d" stroke="#000" stroke-width="1"/>
<line x1="149.50" y1="959.40" x2="149.50" y2="993.40" stroke="#000" stroke-width="1.0"/>
<line x1="145.80" y1="959.50" x2="152.20" y2="959.50" stroke="#000" stroke-width="1.0"/>
<line x1="145.80" y1="993.50" x2="152.20" y2="993.50" stroke="#000" stroke-width="1.0"/>
<text class="r" transform="translate(153.50,959.00) rotate(-90)" x="0" y="0" font-size="14.30" text-anchor="start" textLength="21.55" lengthAdjust="spacingAndGlyphs">abc</text>
<rect x="174.50" y="988.50" width="14.00" height="72.00" fill="#4f81bd" stroke="#000" stroke-width="1"/>
<line x1="181.50" y1="984.64" x2="181.50" y2="993.24" stroke="#000" stroke-width="1.0"/>
<line x1="178.30" y1="984.50" x2="184.70" y2="984.50" stroke="#000" stroke-width="1.0"/>
<line x1="178.30" y1="993.50" x2="184.70" y2="993.50" stroke="#000" stroke-width="1.0"/>
<text class="r" transform="translate(186.00,979.50) rotate(-90)" x="0" y="0" font-size="14.30" text-anchor="start" textLength="29.48" lengthAdjust="spacingAndGlyphs">abcd</text>
<rect x="188.50" y="978.50" width="13.00" height="82.00" fill="#c0504d" stroke="#000" stroke-width="1"/>
<line x1="195.50" y1="969.06" x2="195.50" y2="988.06" stroke="#000" stroke-width="1.0"/>
<line x1="191.80" y1="969.50" x2="198.20" y2="969.50" stroke="#000" stroke-width="1.0"/>
<line x1="191.80" y1="988.50" x2="198.20" y2="988.50" stroke="#000" stroke-width="1.0"/>
<text class="r" transform="translate(199.50,961.10) rotate(-90)" x="0" y="0" font-size="14.30" text-anchor="start" textLength="29.48" lengthAdjust="spacingAndGlyphs">abcd</text>
<rect x="220.50" y="1001.50" width="14.00" height="59.00" fill="#4f81bd" stroke="#000" stroke-width="1"/>
<line x1="227.50" y1="998.12" x2="227.50" y2="1005.32" stroke="#000" stroke-width="1.0"/>
<line x1="224.30" y1="998.50" x2="230.70" y2="998.50" stroke="#000" stroke-width="1.0"/>
<line x1="224.30" y1="1005.50" x2="230.70" y2="1005.50" stroke="#000" stroke-width="1.0"/>
<text class="r" transform="translate(232.00,993.00) rotate(-90)" x="0" y="0" font-size="14.30" text-anchor="start" textLength="14.32" lengthAdjust="spacingAndGlyphs">cd</text>
<rect x="234.50" y="1002.50" width="13.00" height="58.00" fill="#c0504d" stroke="#000" stroke-width="1"/>
<line x1="241.50" y1="992.85" x2="241.50" y2="1011.65" stroke="#000" stroke-width="1.0"/>
<line x1="237.80" y1="992.50" x2="244.20" y2="992.50" stroke="#000" stroke-width="1.0"/>
<line x1="237.80" y1="1011.50" x2="244.20" y2="1011.50" stroke="#000" stroke-width="1.0"/>
<text class="r" transform="translate(245.50,984.20) rotate(-90)" x="0" y="0" font-size="14.30" text-anchor="start" textLength="14.32" lengthAdjust="spacingAndGlyphs">cd</text>
<rect x="266.50" y="994.50" width="14.00" height="66.00" fill="#4f81bd" stroke="#000" stroke-width="1"/>
<line x1="273.50" y1="990.56" x2="273.50" y2="999.16" stroke="#000" stroke-width="1.0"/>
<line x1="270.30" y1="990.50" x2="276.70" y2="990.50" stroke="#000" stroke-width="1.0"/>
<line x1="270.30" y1="999.50" x2="276.70" y2="999.50" stroke="#000" stroke-width="1.0"/>
<text class="r" transform="translate(278.00,985.20) rotate(-90)" x="0" y="0" font-size="14.30" text-anchor="start" textLength="22.25" lengthAdjust="spacingAndGlyphs">bcd</text>
<rect x="280.50" y="984.50" width="13.00" height="76.00" fill="#c0504d" stroke="#000" stroke-width="1"/>
<line x1="287.50" y1="980.33" x2="287.50" y2="989.53" stroke="#000" stroke-width="1.0"/>
<line x1="283.80" y1="980.50" x2="290.20" y2="980.50" stroke="#000" stroke-width="1.0"/>
<line x1="283.80" y1="989.50" x2="290.20" y2="989.50" stroke="#000" stroke-width="1.0"/>
<text class="r" transform="translate(291.50,967.20) rotate(-90)" x="0" y="0" font-size="14.30" text-anchor="start" textLength="29.48" lengthAdjust="spacingAndGlyphs">abcd</text>
<rect x="312.50" y="1001.50" width="14.00" height="59.00" fill="#4f81bd" stroke="#000" stroke-width="1"/>
<line x1="319.50" y1="998.50" x2="319.50" y2="1004.50" stroke="#000" stroke-width="1.0"/>
<line x1="316.30" y1="998.50" x2="322.70" y2="998.50" stroke="#000" stroke-width="1.0"/>
<line x1="316.30" y1="1004.50" x2="322.70" y2="1004.50" stroke="#000" stroke-width="1.0"/>
<text class="r" transform="translate(324.00,992.40) rotate(-90)" x="0" y="0" font-size="14.30" text-anchor="start" textLength="14.32" lengthAdjust="spacingAndGlyphs">cd</text>
<rect x="326.50" y="987.50" width="13.00" height="73.00" fill="#c0504d" stroke="#000" stroke-width="1"/>
<line x1="333.50" y1="981.81" x2="333.50" y2="992.81" stroke="#000" stroke-width="1.0"/>
<line x1="329.80" y1="981.50" x2="336.20" y2="981.50" stroke="#000" stroke-width="1.0"/>
<line x1="329.80" y1="992.50" x2="336.20" y2="992.50" stroke="#000" stroke-width="1.0"/>
<text class="r" transform="translate(337.50,969.90) rotate(-90)" x="0" y="0" font-size="14.30" text-anchor="start" textLength="29.48" lengthAdjust="spacingAndGlyphs">abcd</text>
<rect x="358.50" y="969.50" width="14.00" height="91.00" fill="#4f81bd" stroke="#000" stroke-width="1"/>
<line x1="365.50" y1="963.24" x2="365.50" y2="974.84" stroke="#000" stroke-width="1.0"/>
<line x1="362.30" y1="963.50" x2="368.70" y2="963.50" stroke="#000" stroke-width="1.0"/>
<line x1="362.30" y1="974.50" x2="368.70" y2="974.50" stroke="#000" stroke-width="1.0"/>
<text class="r" transform="translate(370.00,960.30) rotate(-90)" x="0" y="0" font-size="14.30" text-anchor="start" textLength="15.17" lengthAdjust="spacingAndGlyphs">ab</text>
<rect x="372.50" y="967.50" width="13.00" height="93.00" fill="#c0504d" stroke="#000" stroke-width="1"/>
<line x1="379.50" y1="960.41" x2="379.50" y2="974.41" stroke="#000" stroke-width="1.0"/>
<line x1="375.80" y1="960.50" x2="382.20" y2="960.50" stroke="#000" stroke-width="1.0"/>
<line x1="375.80" y1="974.50" x2="382.20" y2="974.50" stroke="#000" stroke-width="1.0"/>
<text class="r" transform="translate(383.50,950.50) rotate(-90)" x="0" y="0" font-size="14.30" text-anchor="start" textLength="7.23" lengthAdjust="spacingAndGlyphs">a</text>
<rect x="404.50" y="993.50" width="14.00" height="67.00" fill="#4f81bd" stroke="#000" stroke-width="1"/>
<line x1="411.50" y1="985.22" x2="411.50" y2="1001.42" stroke="#000" stroke-width="1.0"/>
<line x1="408.30" y1="985.50" x2="414.70" y2="985.50" stroke="#000" stroke-width="1.0"/>
<line x1="408.30" y1="1001.50" x2="414.70" y2="1001.50" stroke="#000" stroke-width="1.0"/>
<text class="r" transform="translate(416.00,984.80) rotate(-90)" x="0" y="0" font-size="14.30" text-anchor="start" textLength="29.48" lengthAdjust="spacingAndGlyphs">abcd</text>
<rect x="418.50" y="992.50" width="13.00" height="68.00" fill="#c0504d" stroke="#000" stroke-width="1"/>
<line x1="425.50" y1="984.66" x2="425.50" y2="1000.86" stroke="#000" stroke-width="1.0"/>
<line x1="421.80" y1="984.50" x2="428.20" y2="984.50" stroke="#000" stroke-width="1.0"/>
<line x1="421.80" y1="1000.50" x2="428.20" y2="1000.50" stroke="#000" stroke-width="1.0"/>
<text class="r" transform="translate(429.50,975.40) rotate(-90)" x="0" y="0" font-size="14.30" text-anchor="start" textLength="29.48" lengthAdjust="spacingAndGlyphs">abcd</text>
<rect x="450.50" y="988.50" width="14.00" height="72.00" fill="#4f81bd" stroke="#000" stroke-width="1"/>
<line x1="457.50" y1="982.19" x2="457.50" y2="993.99" stroke="#000" stroke-width="1.0"/>
<line x1="454.30" y1="982.50" x2="460.70" y2="982.50" stroke="#000" stroke-width="1.0"/>
<line x1="454.30" y1="993.50" x2="460.70" y2="993.50" stroke="#000" stroke-width="1.0"/>
<text class="r" transform="translate(462.00,979.50) rotate(-90)" x="0" y="0" font-size="14.30" text-anchor="start" textLength="29.48" lengthAdjust="spacingAndGlyphs">abcd</text>
<rect x="464.50" y="977.50" width="13.00" height="83.00" fill="#c0504d" stroke="#000" stroke-width="1"/>
<line x1="471.50" y1="973.28" x2="471.50" y2="982.48" stroke="#000" stroke-width="1.0"/>
<line x1="467.80" y1="973.50" x2="474.20" y2="973.50" stroke="#000" stroke-width="1.0"/>
<line x1="467.80" y1="982.50" x2="474.20" y2="982.50" stroke="#000" stroke-width="1.0"/>
<text class="r" transform="translate(475.50,960.70) rotate(-90)" x="0" y="0" font-size="14.30" text-anchor="start" textLength="29.48" lengthAdjust="spacingAndGlyphs">abcd</text>
<rect x="496.50" y="994.50" width="14.00" height="66.00" fill="#4f81bd" stroke="#000" stroke-width="1"/>
<line x1="503.50" y1="987.27" x2="503.50" y2="1000.87" stroke="#000" stroke-width="1.0"/>
<line x1="500.30" y1="987.50" x2="506.70" y2="987.50" stroke="#000" stroke-width="1.0"/>
<line x1="500.30" y1="1000.50" x2="506.70" y2="1000.50" stroke="#000" stroke-width="1.0"/>
<text class="r" transform="translate(508.00,985.20) rotate(-90)" x="0" y="0" font-size="14.30" text-anchor="start" textLength="29.48" lengthAdjust="spacingAndGlyphs">abcd</text>
<rect x="510.50" y="981.50" width="13.00" height="79.00" fill="#c0504d" stroke="#000" stroke-width="1"/>
<line x1="517.50" y1="972.48" x2="517.50" y2="990.48" stroke="#000" stroke-width="1.0"/>
<line x1="513.80" y1="972.50" x2="520.20" y2="972.50" stroke="#000" stroke-width="1.0"/>
<line x1="513.80" y1="990.50" x2="520.20" y2="990.50" stroke="#000" stroke-width="1.0"/>
<text class="r" transform="translate(521.50,964.40) rotate(-90)" x="0" y="0" font-size="14.30" text-anchor="start" textLength="29.48" lengthAdjust="spacingAndGlyphs">abcd</text>
<rect x="542.50" y="969.50" width="14.00" height="91.00" fill="#4f81bd" stroke="#000" stroke-width="1"/>
<line x1="549.50" y1="958.03" x2="549.50" y2="980.43" stroke="#000" stroke-width="1.0"/>
<line x1="546.30" y1="958.50" x2="552.70" y2="958.50" stroke="#000" stroke-width="1.0"/>
<line x1="546.30" y1="980.50" x2="552.70" y2="980.50" stroke="#000" stroke-width="1.0"/>
<text class="r" transform="translate(554.00,960.30) rotate(-90)" x="0" y="0" font-size="14.30" text-anchor="start" textLength="15.17" lengthAdjust="spacingAndGlyphs">ab</text>
<rect x="556.50" y="973.50" width="13.00" height="87.00" fill="#c0504d" stroke="#000" stroke-width="1"/>
<line x1="563.50" y1="965.08" x2="563.50" y2="982.08" stroke="#000" stroke-width="1.0"/>
<line x1="559.80" y1="965.50" x2="566.20" y2="965.50" stroke="#000" stroke-width="1.0"/>
<line x1="559.80" y1="982.50" x2="566.20" y2="982.50" stroke="#000" stroke-width="1.0"/>
<text class="r" transform="translate(567.50,956.20) rotate(-90)" x="0" y="0" font-size="14.30" text-anchor="start" textLength="15.17" lengthAdjust="spacingAndGlyphs">ab</text>
<rect x="588.50" y="993.50" width="14.00" height="67.00" fill="#4f81bd" stroke="#000" stroke-width="1"/>
<line x1="595.50" y1="988.07" x2="595.50" y2="998.27" stroke="#000" stroke-width="1.0"/>
<line x1="592.30" y1="988.50" x2="598.70" y2="988.50" stroke="#000" stroke-width="1.0"/>
<line x1="592.30" y1="998.50" x2="598.70" y2="998.50" stroke="#000" stroke-width="1.0"/>
<text class="r" transform="translate(600.00,984.20) rotate(-90)" x="0" y="0" font-size="14.30" text-anchor="start" textLength="29.48" lengthAdjust="spacingAndGlyphs">abcd</text>
<rect x="602.50" y="969.50" width="13.00" height="91.00" fill="#c0504d" stroke="#000" stroke-width="1"/>
<line x1="609.50" y1="961.58" x2="609.50" y2="977.38" stroke="#000" stroke-width="1.0"/>
<line x1="605.80" y1="961.50" x2="612.20" y2="961.50" stroke="#000" stroke-width="1.0"/>
<line x1="605.80" y1="977.50" x2="612.20" y2="977.50" stroke="#000" stroke-width="1.0"/>
<text class="r" transform="translate(613.50,952.10) rotate(-90)" x="0" y="0" font-size="14.30" text-anchor="start" textLength="15.17" lengthAdjust="spacingAndGlyphs">ab</text>
<rect x="634.50" y="985.50" width="14.00" height="75.00" fill="#4f81bd" stroke="#000" stroke-width="1"/>
<line x1="641.50" y1="978.31" x2="641.50" y2="991.91" stroke="#000" stroke-width="1.0"/>
<line x1="638.30" y1="978.50" x2="644.70" y2="978.50" stroke="#000" stroke-width="1.0"/>
<line x1="638.30" y1="991.50" x2="644.70" y2="991.50" stroke="#000" stroke-width="1.0"/>
<text class="r" transform="translate(646.00,976.00) rotate(-90)" x="0" y="0" font-size="14.30" text-anchor="start" textLength="29.48" lengthAdjust="spacingAndGlyphs">abcd</text>
<rect x="648.50" y="968.50" width="13.00" height="92.00" fill="#c0504d" stroke="#000" stroke-width="1"/>
<line x1="655.50" y1="956.10" x2="655.50" y2="980.10" stroke="#000" stroke-width="1.0"/>
<line x1="651.80" y1="956.50" x2="658.20" y2="956.50" stroke="#000" stroke-width="1.0"/>
<line x1="651.80" y1="980.50" x2="658.20" y2="980.50" stroke="#000" stroke-width="1.0"/>
<text class="r" transform="translate(659.50,950.50) rotate(-90)" x="0" y="0" font-size="14.30" text-anchor="start" textLength="15.17" lengthAdjust="spacingAndGlyphs">ab</text>
<line x1="119.50" y1="919.00" x2="119.50" y2="1153.00" stroke="#000" stroke-width="1.0"/>
<line x1="119.00" y1="1060.50" x2="671.00" y2="1060.50" stroke="#000" stroke-width="1.0"/>
<line x1="82.40" y1="1106.50" x2="671.00" y2="1106.50" stroke="#000" stroke-width="1.0"/>
<line x1="82.40" y1="1130.50" x2="671.00" y2="1130.50" stroke="#000" stroke-width="1.0"/>
<line x1="81.90" y1="1153.50" x2="671.50" y2="1153.50" stroke="#000" stroke-width="1.0"/>
<line x1="82.50" y1="1106.00" x2="82.50" y2="1153.00" stroke="#000" stroke-width="1.0"/>
<line x1="671.50" y1="1060.00" x2="671.50" y2="1153.00" stroke="#000" stroke-width="1.0"/>
<line x1="165.50" y1="1060.00" x2="165.50" y2="1082.60" stroke="#000" stroke-width="1.0"/>
<line x1="165.50" y1="1106.00" x2="165.50" y2="1153.00" stroke="#000" stroke-width="1.0"/>
<line x1="211.50" y1="1060.00" x2="211.50" y2="1082.60" stroke="#000" stroke-width="1.0"/>
<line x1="211.50" y1="1106.00" x2="211.50" y2="1153.00" stroke="#000" stroke-width="1.0"/>
<line x1="257.50" y1="1060.00" x2="257.50" y2="1082.60" stroke="#000" stroke-width="1.0"/>
<line x1="257.50" y1="1106.00" x2="257.50" y2="1153.00" stroke="#000" stroke-width="1.0"/>
<line x1="303.50" y1="1060.00" x2="303.50" y2="1153.00" stroke="#000" stroke-width="1.0"/>
<line x1="349.50" y1="1060.00" x2="349.50" y2="1082.60" stroke="#000" stroke-width="1.0"/>
<line x1="349.50" y1="1106.00" x2="349.50" y2="1153.00" stroke="#000" stroke-width="1.0"/>
<line x1="395.50" y1="1060.00" x2="395.50" y2="1082.60" stroke="#000" stroke-width="1.0"/>
<line x1="395.50" y1="1106.00" x2="395.50" y2="1153.00" stroke="#000" stroke-width="1.0"/>
<line x1="441.50" y1="1060.00" x2="441.50" y2="1082.60" stroke="#000" stroke-width="1.0"/>
<line x1="441.50" y1="1106.00" x2="441.50" y2="1153.00" stroke="#000" stroke-width="1.0"/>
<line x1="487.50" y1="1060.00" x2="487.50" y2="1153.00" stroke="#000" stroke-width="1.0"/>
<line x1="533.50" y1="1060.00" x2="533.50" y2="1082.60" stroke="#000" stroke-width="1.0"/>
<line x1="533.50" y1="1106.00" x2="533.50" y2="1153.00" stroke="#000" stroke-width="1.0"/>
<line x1="579.50" y1="1060.00" x2="579.50" y2="1082.60" stroke="#000" stroke-width="1.0"/>
<line x1="579.50" y1="1106.00" x2="579.50" y2="1153.00" stroke="#000" stroke-width="1.0"/>
<line x1="625.50" y1="1060.00" x2="625.50" y2="1082.60" stroke="#000" stroke-width="1.0"/>
<line x1="625.50" y1="1106.00" x2="625.50" y2="1153.00" stroke="#000" stroke-width="1.0"/>
<text class="r" x="142.00" y="1075.90" font-size="13.32" text-anchor="middle" textLength="15.55" lengthAdjust="spacingAndGlyphs">B0</text>
<text class="r" x="142.00" y="1122.60" font-size="13.32" text-anchor="middle" textLength="33.74" lengthAdjust="spacingAndGlyphs">18.05</text>
<text class="r" x="142.00" y="1146.10" font-size="13.32" text-anchor="middle" textLength="33.74" lengthAdjust="spacingAndGlyphs">26.68</text>
<text class="r" x="188.00" y="1075.90" font-size="13.32" text-anchor="middle" textLength="15.55" lengthAdjust="spacingAndGlyphs">B1</text>
<text class="r" x="188.00" y="1122.60" font-size="13.32" text-anchor="middle" textLength="33.74" lengthAdjust="spacingAndGlyphs">22.68</text>
<text class="r" x="188.00" y="1146.10" font-size="13.32" text-anchor="middle" textLength="33.74" lengthAdjust="spacingAndGlyphs">25.99</text>
<text class="r" x="234.00" y="1075.90" font-size="13.32" text-anchor="middle" textLength="15.55" lengthAdjust="spacingAndGlyphs">B2</text>
<text class="r" x="234.00" y="1122.60" font-size="13.32" text-anchor="middle" textLength="33.74" lengthAdjust="spacingAndGlyphs">18.60</text>
<text class="r" x="234.00" y="1146.10" font-size="13.32" text-anchor="middle" textLength="33.74" lengthAdjust="spacingAndGlyphs">18.43</text>
<text class="r" x="280.00" y="1075.90" font-size="13.32" text-anchor="middle" textLength="15.55" lengthAdjust="spacingAndGlyphs">B3</text>
<text class="r" x="280.00" y="1122.60" font-size="13.32" text-anchor="middle" textLength="33.74" lengthAdjust="spacingAndGlyphs">20.79</text>
<text class="r" x="280.00" y="1146.10" font-size="13.32" text-anchor="middle" textLength="33.74" lengthAdjust="spacingAndGlyphs">23.96</text>
<text class="r" x="326.00" y="1075.90" font-size="13.32" text-anchor="middle" textLength="15.55" lengthAdjust="spacingAndGlyphs">B0</text>
<text class="r" x="326.00" y="1122.60" font-size="13.32" text-anchor="middle" textLength="33.74" lengthAdjust="spacingAndGlyphs">18.67</text>
<text class="r" x="326.00" y="1146.10" font-size="13.32" text-anchor="middle" textLength="33.74" lengthAdjust="spacingAndGlyphs">23.20</text>
<text class="r" x="372.00" y="1075.90" font-size="13.32" text-anchor="middle" textLength="15.55" lengthAdjust="spacingAndGlyphs">B1</text>
<text class="r" x="372.00" y="1122.60" font-size="13.32" text-anchor="middle" textLength="33.74" lengthAdjust="spacingAndGlyphs">29.03</text>
<text class="r" x="372.00" y="1146.10" font-size="13.32" text-anchor="middle" textLength="33.74" lengthAdjust="spacingAndGlyphs">29.55</text>
<text class="r" x="418.00" y="1075.90" font-size="13.32" text-anchor="middle" textLength="15.55" lengthAdjust="spacingAndGlyphs">B2</text>
<text class="r" x="418.00" y="1122.60" font-size="13.32" text-anchor="middle" textLength="33.74" lengthAdjust="spacingAndGlyphs">21.28</text>
<text class="r" x="418.00" y="1146.10" font-size="13.32" text-anchor="middle" textLength="33.74" lengthAdjust="spacingAndGlyphs">21.46</text>
<text class="r" x="464.00" y="1075.90" font-size="13.32" text-anchor="middle" textLength="15.55" lengthAdjust="spacingAndGlyphs">B3</text>
<text class="r" x="464.00" y="1122.60" font-size="13.32" text-anchor="middle" textLength="33.74" lengthAdjust="spacingAndGlyphs">22.95</text>
<text class="r" x="464.00" y="1146.10" font-size="13.32" text-anchor="middle" textLength="33.74" lengthAdjust="spacingAndGlyphs">26.21</text>
<text class="r" x="510.00" y="1075.90" font-size="13.32" text-anchor="middle" textLength="15.55" lengthAdjust="spacingAndGlyphs">B0</text>
<text class="r" x="510.00" y="1122.60" font-size="13.32" text-anchor="middle" textLength="33.74" lengthAdjust="spacingAndGlyphs">21.04</text>
<text class="r" x="510.00" y="1146.10" font-size="13.32" text-anchor="middle" textLength="33.74" lengthAdjust="spacingAndGlyphs">25.06</text>
<text class="r" x="556.00" y="1075.90" font-size="13.32" text-anchor="middle" textLength="15.55" lengthAdjust="spacingAndGlyphs">B1</text>
<text class="r" x="556.00" y="1122.60" font-size="13.32" text-anchor="middle" textLength="33.74" lengthAdjust="spacingAndGlyphs">28.97</text>
<text class="r" x="556.00" y="1146.10" font-size="13.32" text-anchor="middle" textLength="33.74" lengthAdjust="spacingAndGlyphs">27.58</text>
<text class="r" x="602.00" y="1075.90" font-size="13.32" text-anchor="middle" textLength="15.55" lengthAdjust="spacingAndGlyphs">B2</text>
<text class="r" x="602.00" y="1122.60" font-size="13.32" text-anchor="middle" textLength="33.74" lengthAdjust="spacingAndGlyphs">21.33</text>
<text class="r" x="602.00" y="1146.10" font-size="13.32" text-anchor="middle" textLength="33.74" lengthAdjust="spacingAndGlyphs">28.89</text>
<text class="r" x="648.00" y="1075.90" font-size="13.32" text-anchor="middle" textLength="15.55" lengthAdjust="spacingAndGlyphs">B3</text>
<text class="r" x="648.00" y="1122.60" font-size="13.32" text-anchor="middle" textLength="33.74" lengthAdjust="spacingAndGlyphs">23.90</text>
<text class="r" x="648.00" y="1146.10" font-size="13.32" text-anchor="middle" textLength="33.74" lengthAdjust="spacingAndGlyphs">29.33</text>
<text class="r" x="211.00" y="1098.90" font-size="13.32" text-anchor="middle" textLength="101.46" lengthAdjust="spacingAndGlyphs">Normal watering</text>
<text class="r" x="395.00" y="1098.90" font-size="13.32" text-anchor="middle" textLength="126.07" lengthAdjust="spacingAndGlyphs">moderately watering</text>
<text class="r" x="579.00" y="1098.90" font-size="13.32" text-anchor="middle" textLength="78.42" lengthAdjust="spacingAndGlyphs">low watering</text>
<rect x="87.60" y="1113.80" width="8.40" height="8.40" fill="#4f81bd" stroke="#000" stroke-width="1"/>
<text class="r" x="100.00" y="1122.60" font-size="13.32" text-anchor="start" textLength="14.32" lengthAdjust="spacingAndGlyphs">C1</text>
<rect x="87.60" y="1137.30" width="8.40" height="8.40" fill="#c0504d" stroke="#000" stroke-width="1"/>
<text class="r" x="100.00" y="1146.10" font-size="13.32" text-anchor="start" textLength="14.32" lengthAdjust="spacingAndGlyphs">C2</text>
</svg>
</body></html>
